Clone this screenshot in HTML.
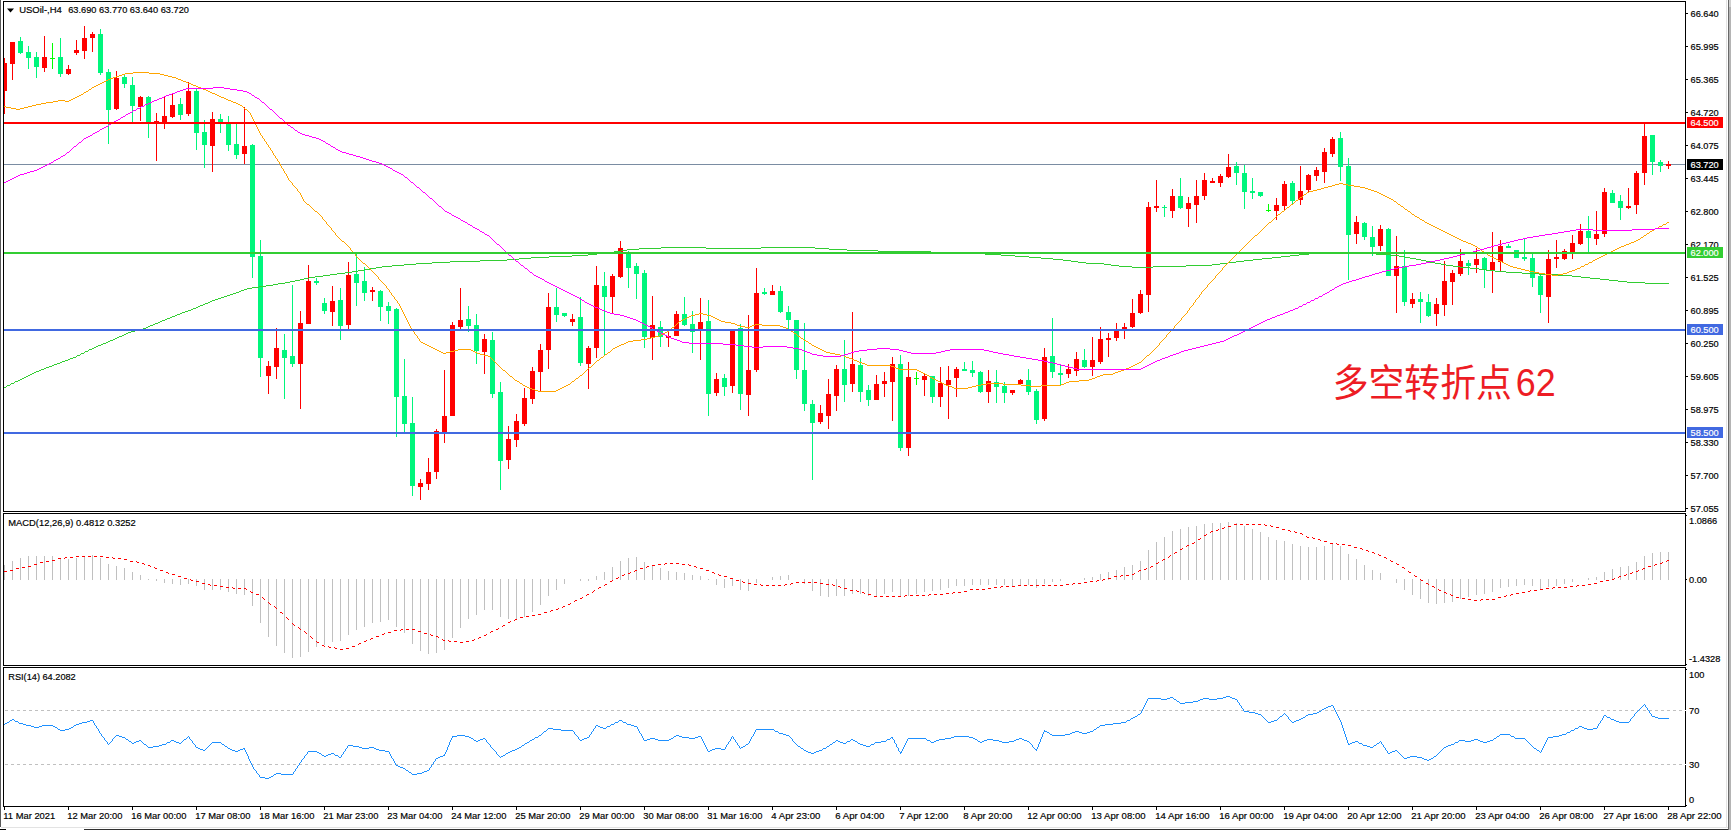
<!DOCTYPE html>
<html lang="zh"><head><meta charset="utf-8"><title>USOil H4</title>
<style>html,body{margin:0;padding:0;background:#fff;}body{width:1731px;height:830px;overflow:hidden;}svg{display:block;}text{font-family:"Liberation Sans","Noto Sans CJK SC",sans-serif;}</style></head><body>
<svg width="1731" height="830" viewBox="0 0 1731 830">
<rect x="0" y="0" width="1731" height="830" fill="#fff"/>
<g shape-rendering="crispEdges">
<rect x="0" y="0" width="1" height="827" fill="#5a5a5a"/>
<rect x="1726" y="0" width="1" height="827" fill="#e3e3e3"/>
<rect x="1728" y="0" width="1" height="830" fill="#696969"/>
<rect x="1729" y="0" width="2" height="7" fill="#d0d0d0"/>
<rect x="1729" y="7" width="2" height="823" fill="#b4b4b4"/>
<rect x="1" y="827" width="1727" height="1" fill="#e3e3e3"/>
<rect x="0" y="829" width="6" height="1" fill="#000"/>
<rect x="84" y="829" width="1644" height="1" fill="#303030"/>
<rect x="4" y="164" width="1681" height="1" fill="#7a8ca2"/>
</g>
<g shape-rendering="crispEdges">
<rect x="4" y="58" width="1" height="56" fill="#ff0000"/>
<rect x="4" y="63" width="3" height="28" fill="#ff0000"/>
<rect x="12" y="42" width="1" height="38" fill="#ff0000"/>
<rect x="10" y="42" width="5" height="22" fill="#ff0000"/>
<rect x="20" y="37" width="1" height="17" fill="#00f67c"/>
<rect x="18" y="41" width="5" height="12" fill="#00f67c"/>
<rect x="28" y="46" width="1" height="23" fill="#00f67c"/>
<rect x="26" y="52" width="5" height="6" fill="#00f67c"/>
<rect x="36" y="52" width="1" height="26" fill="#00f67c"/>
<rect x="34" y="57" width="5" height="10" fill="#00f67c"/>
<rect x="44" y="36" width="1" height="36" fill="#ff0000"/>
<rect x="42" y="57" width="5" height="11" fill="#ff0000"/>
<rect x="52" y="43" width="1" height="26" fill="#00ff00"/>
<rect x="50" y="58" width="5" height="1" fill="#00ff00"/>
<rect x="60" y="38" width="1" height="39" fill="#00f67c"/>
<rect x="58" y="57" width="5" height="17" fill="#00f67c"/>
<rect x="68" y="65" width="1" height="10" fill="#ff0000"/>
<rect x="66" y="69" width="5" height="5" fill="#ff0000"/>
<rect x="76" y="40" width="1" height="15" fill="#ff0000"/>
<rect x="74" y="50" width="5" height="3" fill="#ff0000"/>
<rect x="84" y="26" width="1" height="33" fill="#ff0000"/>
<rect x="82" y="38" width="5" height="13" fill="#ff0000"/>
<rect x="92" y="32" width="1" height="20" fill="#ff0000"/>
<rect x="90" y="34" width="5" height="4" fill="#ff0000"/>
<rect x="100" y="29" width="1" height="46" fill="#00f67c"/>
<rect x="98" y="34" width="5" height="39" fill="#00f67c"/>
<rect x="108" y="69" width="1" height="75" fill="#00f67c"/>
<rect x="106" y="72" width="5" height="38" fill="#00f67c"/>
<rect x="116" y="71" width="1" height="39" fill="#ff0000"/>
<rect x="114" y="78" width="5" height="31" fill="#ff0000"/>
<rect x="124" y="75" width="1" height="13" fill="#00f67c"/>
<rect x="122" y="77" width="5" height="7" fill="#00f67c"/>
<rect x="132" y="77" width="1" height="45" fill="#00f67c"/>
<rect x="130" y="85" width="5" height="21" fill="#00f67c"/>
<rect x="140" y="96" width="1" height="25" fill="#ff0000"/>
<rect x="138" y="97" width="5" height="10" fill="#ff0000"/>
<rect x="148" y="96" width="1" height="42" fill="#00f67c"/>
<rect x="146" y="97" width="5" height="27" fill="#00f67c"/>
<rect x="156" y="113" width="1" height="48" fill="#ff0000"/>
<rect x="154" y="121" width="5" height="2" fill="#ff0000"/>
<rect x="164" y="96" width="1" height="33" fill="#ff0000"/>
<rect x="162" y="116" width="5" height="7" fill="#ff0000"/>
<rect x="172" y="94" width="1" height="24" fill="#ff0000"/>
<rect x="170" y="105" width="5" height="12" fill="#ff0000"/>
<rect x="180" y="98" width="1" height="22" fill="#00f67c"/>
<rect x="178" y="104" width="5" height="11" fill="#00f67c"/>
<rect x="188" y="82" width="1" height="34" fill="#ff0000"/>
<rect x="186" y="91" width="5" height="23" fill="#ff0000"/>
<rect x="196" y="89" width="1" height="61" fill="#00f67c"/>
<rect x="194" y="91" width="5" height="42" fill="#00f67c"/>
<rect x="204" y="120" width="1" height="48" fill="#00f67c"/>
<rect x="202" y="132" width="5" height="13" fill="#00f67c"/>
<rect x="212" y="112" width="1" height="60" fill="#ff0000"/>
<rect x="210" y="119" width="5" height="27" fill="#ff0000"/>
<rect x="220" y="114" width="1" height="19" fill="#00f67c"/>
<rect x="218" y="119" width="5" height="3" fill="#00f67c"/>
<rect x="228" y="116" width="1" height="35" fill="#00f67c"/>
<rect x="226" y="123" width="5" height="22" fill="#00f67c"/>
<rect x="236" y="124" width="1" height="35" fill="#00f67c"/>
<rect x="234" y="144" width="5" height="11" fill="#00f67c"/>
<rect x="244" y="107" width="1" height="57" fill="#ff0000"/>
<rect x="242" y="146" width="5" height="8" fill="#ff0000"/>
<rect x="252" y="144" width="1" height="134" fill="#00f67c"/>
<rect x="250" y="145" width="5" height="112" fill="#00f67c"/>
<rect x="260" y="240" width="1" height="137" fill="#00f67c"/>
<rect x="258" y="256" width="5" height="102" fill="#00f67c"/>
<rect x="268" y="361" width="1" height="33" fill="#ff0000"/>
<rect x="266" y="366" width="5" height="10" fill="#ff0000"/>
<rect x="276" y="328" width="1" height="51" fill="#ff0000"/>
<rect x="274" y="348" width="5" height="19" fill="#ff0000"/>
<rect x="284" y="334" width="1" height="65" fill="#00f67c"/>
<rect x="282" y="350" width="5" height="8" fill="#00f67c"/>
<rect x="292" y="285" width="1" height="82" fill="#00f67c"/>
<rect x="290" y="356" width="5" height="8" fill="#00f67c"/>
<rect x="300" y="311" width="1" height="98" fill="#ff0000"/>
<rect x="298" y="323" width="5" height="41" fill="#ff0000"/>
<rect x="308" y="265" width="1" height="59" fill="#ff0000"/>
<rect x="306" y="281" width="5" height="43" fill="#ff0000"/>
<rect x="316" y="278" width="1" height="7" fill="#00f67c"/>
<rect x="314" y="281" width="5" height="2" fill="#00f67c"/>
<rect x="324" y="298" width="1" height="16" fill="#00f67c"/>
<rect x="322" y="303" width="5" height="8" fill="#00f67c"/>
<rect x="332" y="286" width="1" height="40" fill="#ff0000"/>
<rect x="330" y="301" width="5" height="11" fill="#ff0000"/>
<rect x="340" y="288" width="1" height="52" fill="#00f67c"/>
<rect x="338" y="300" width="5" height="26" fill="#00f67c"/>
<rect x="348" y="262" width="1" height="67" fill="#ff0000"/>
<rect x="346" y="275" width="5" height="50" fill="#ff0000"/>
<rect x="356" y="254" width="1" height="52" fill="#00f67c"/>
<rect x="354" y="274" width="5" height="9" fill="#00f67c"/>
<rect x="364" y="267" width="1" height="34" fill="#00f67c"/>
<rect x="362" y="281" width="5" height="12" fill="#00f67c"/>
<rect x="372" y="287" width="1" height="14" fill="#ff0000"/>
<rect x="370" y="290" width="5" height="2" fill="#ff0000"/>
<rect x="380" y="290" width="1" height="31" fill="#00f67c"/>
<rect x="378" y="291" width="5" height="16" fill="#00f67c"/>
<rect x="388" y="302" width="1" height="22" fill="#00f67c"/>
<rect x="386" y="306" width="5" height="5" fill="#00f67c"/>
<rect x="396" y="308" width="1" height="129" fill="#00f67c"/>
<rect x="394" y="309" width="5" height="88" fill="#00f67c"/>
<rect x="404" y="359" width="1" height="73" fill="#00f67c"/>
<rect x="402" y="396" width="5" height="28" fill="#00f67c"/>
<rect x="412" y="397" width="1" height="99" fill="#00f67c"/>
<rect x="410" y="423" width="5" height="63" fill="#00f67c"/>
<rect x="420" y="479" width="1" height="21" fill="#ff0000"/>
<rect x="418" y="483" width="5" height="4" fill="#ff0000"/>
<rect x="428" y="458" width="1" height="32" fill="#ff0000"/>
<rect x="426" y="472" width="5" height="12" fill="#ff0000"/>
<rect x="436" y="429" width="1" height="50" fill="#ff0000"/>
<rect x="434" y="431" width="5" height="41" fill="#ff0000"/>
<rect x="444" y="370" width="1" height="73" fill="#ff0000"/>
<rect x="442" y="416" width="5" height="17" fill="#ff0000"/>
<rect x="452" y="322" width="1" height="94" fill="#ff0000"/>
<rect x="450" y="325" width="5" height="91" fill="#ff0000"/>
<rect x="460" y="288" width="1" height="41" fill="#ff0000"/>
<rect x="458" y="320" width="5" height="7" fill="#ff0000"/>
<rect x="468" y="306" width="1" height="26" fill="#00f67c"/>
<rect x="466" y="319" width="5" height="7" fill="#00f67c"/>
<rect x="476" y="314" width="1" height="50" fill="#00f67c"/>
<rect x="474" y="325" width="5" height="26" fill="#00f67c"/>
<rect x="484" y="334" width="1" height="40" fill="#ff0000"/>
<rect x="482" y="339" width="5" height="13" fill="#ff0000"/>
<rect x="492" y="332" width="1" height="66" fill="#00f67c"/>
<rect x="490" y="340" width="5" height="54" fill="#00f67c"/>
<rect x="500" y="382" width="1" height="108" fill="#00f67c"/>
<rect x="498" y="392" width="5" height="69" fill="#00f67c"/>
<rect x="508" y="426" width="1" height="43" fill="#ff0000"/>
<rect x="506" y="439" width="5" height="21" fill="#ff0000"/>
<rect x="516" y="414" width="1" height="33" fill="#ff0000"/>
<rect x="514" y="421" width="5" height="19" fill="#ff0000"/>
<rect x="524" y="388" width="1" height="38" fill="#ff0000"/>
<rect x="522" y="398" width="5" height="26" fill="#ff0000"/>
<rect x="532" y="367" width="1" height="37" fill="#ff0000"/>
<rect x="530" y="371" width="5" height="28" fill="#ff0000"/>
<rect x="540" y="344" width="1" height="47" fill="#ff0000"/>
<rect x="538" y="350" width="5" height="22" fill="#ff0000"/>
<rect x="548" y="293" width="1" height="76" fill="#ff0000"/>
<rect x="546" y="307" width="5" height="43" fill="#ff0000"/>
<rect x="556" y="288" width="1" height="34" fill="#00f67c"/>
<rect x="554" y="307" width="5" height="8" fill="#00f67c"/>
<rect x="564" y="313" width="1" height="4" fill="#00f67c"/>
<rect x="562" y="313" width="5" height="3" fill="#00f67c"/>
<rect x="572" y="314" width="1" height="12" fill="#ff0000"/>
<rect x="570" y="319" width="5" height="3" fill="#ff0000"/>
<rect x="580" y="297" width="1" height="69" fill="#00f67c"/>
<rect x="578" y="317" width="5" height="46" fill="#00f67c"/>
<rect x="588" y="346" width="1" height="43" fill="#ff0000"/>
<rect x="586" y="348" width="5" height="16" fill="#ff0000"/>
<rect x="596" y="266" width="1" height="92" fill="#ff0000"/>
<rect x="594" y="285" width="5" height="63" fill="#ff0000"/>
<rect x="604" y="272" width="1" height="83" fill="#00f67c"/>
<rect x="602" y="286" width="5" height="11" fill="#00f67c"/>
<rect x="612" y="274" width="1" height="39" fill="#ff0000"/>
<rect x="610" y="276" width="5" height="21" fill="#ff0000"/>
<rect x="620" y="241" width="1" height="37" fill="#ff0000"/>
<rect x="618" y="248" width="5" height="29" fill="#ff0000"/>
<rect x="628" y="251" width="1" height="37" fill="#00f67c"/>
<rect x="626" y="253" width="5" height="15" fill="#00f67c"/>
<rect x="636" y="263" width="1" height="36" fill="#00f67c"/>
<rect x="634" y="266" width="5" height="8" fill="#00f67c"/>
<rect x="644" y="270" width="1" height="78" fill="#00f67c"/>
<rect x="642" y="273" width="5" height="64" fill="#00f67c"/>
<rect x="652" y="296" width="1" height="64" fill="#ff0000"/>
<rect x="650" y="325" width="5" height="13" fill="#ff0000"/>
<rect x="660" y="321" width="1" height="26" fill="#00f67c"/>
<rect x="658" y="327" width="5" height="10" fill="#00f67c"/>
<rect x="668" y="331" width="1" height="16" fill="#ff0000"/>
<rect x="666" y="336" width="5" height="2" fill="#ff0000"/>
<rect x="676" y="311" width="1" height="25" fill="#ff0000"/>
<rect x="674" y="314" width="5" height="22" fill="#ff0000"/>
<rect x="684" y="297" width="1" height="29" fill="#00f67c"/>
<rect x="682" y="314" width="5" height="11" fill="#00f67c"/>
<rect x="692" y="311" width="1" height="42" fill="#00f67c"/>
<rect x="690" y="324" width="5" height="8" fill="#00f67c"/>
<rect x="700" y="298" width="1" height="62" fill="#ff0000"/>
<rect x="698" y="322" width="5" height="8" fill="#ff0000"/>
<rect x="708" y="300" width="1" height="116" fill="#00f67c"/>
<rect x="706" y="321" width="5" height="73" fill="#00f67c"/>
<rect x="716" y="373" width="1" height="23" fill="#ff0000"/>
<rect x="714" y="379" width="5" height="14" fill="#ff0000"/>
<rect x="724" y="374" width="1" height="22" fill="#00f67c"/>
<rect x="722" y="378" width="5" height="9" fill="#00f67c"/>
<rect x="732" y="329" width="1" height="64" fill="#ff0000"/>
<rect x="730" y="329" width="5" height="57" fill="#ff0000"/>
<rect x="740" y="324" width="1" height="86" fill="#00f67c"/>
<rect x="738" y="328" width="5" height="66" fill="#00f67c"/>
<rect x="748" y="315" width="1" height="101" fill="#ff0000"/>
<rect x="746" y="370" width="5" height="25" fill="#ff0000"/>
<rect x="756" y="268" width="1" height="104" fill="#ff0000"/>
<rect x="754" y="293" width="5" height="77" fill="#ff0000"/>
<rect x="764" y="288" width="1" height="7" fill="#00f67c"/>
<rect x="762" y="292" width="5" height="2" fill="#00f67c"/>
<rect x="772" y="285" width="1" height="10" fill="#ff0000"/>
<rect x="770" y="291" width="5" height="4" fill="#ff0000"/>
<rect x="780" y="286" width="1" height="27" fill="#00f67c"/>
<rect x="778" y="291" width="5" height="21" fill="#00f67c"/>
<rect x="788" y="306" width="1" height="23" fill="#00f67c"/>
<rect x="786" y="312" width="5" height="8" fill="#00f67c"/>
<rect x="796" y="320" width="1" height="59" fill="#00f67c"/>
<rect x="794" y="320" width="5" height="50" fill="#00f67c"/>
<rect x="804" y="323" width="1" height="88" fill="#00f67c"/>
<rect x="802" y="370" width="5" height="34" fill="#00f67c"/>
<rect x="812" y="400" width="1" height="80" fill="#00f67c"/>
<rect x="810" y="404" width="5" height="19" fill="#00f67c"/>
<rect x="820" y="405" width="1" height="19" fill="#ff0000"/>
<rect x="818" y="413" width="5" height="9" fill="#ff0000"/>
<rect x="828" y="379" width="1" height="50" fill="#ff0000"/>
<rect x="826" y="394" width="5" height="22" fill="#ff0000"/>
<rect x="836" y="365" width="1" height="46" fill="#ff0000"/>
<rect x="834" y="369" width="5" height="27" fill="#ff0000"/>
<rect x="844" y="340" width="1" height="62" fill="#00f67c"/>
<rect x="842" y="369" width="5" height="16" fill="#00f67c"/>
<rect x="852" y="312" width="1" height="80" fill="#ff0000"/>
<rect x="850" y="364" width="5" height="20" fill="#ff0000"/>
<rect x="860" y="358" width="1" height="44" fill="#00f67c"/>
<rect x="858" y="365" width="5" height="27" fill="#00f67c"/>
<rect x="868" y="385" width="1" height="21" fill="#00f67c"/>
<rect x="866" y="390" width="5" height="10" fill="#00f67c"/>
<rect x="876" y="375" width="1" height="25" fill="#ff0000"/>
<rect x="874" y="384" width="5" height="16" fill="#ff0000"/>
<rect x="884" y="372" width="1" height="25" fill="#ff0000"/>
<rect x="882" y="381" width="5" height="3" fill="#ff0000"/>
<rect x="892" y="357" width="1" height="64" fill="#ff0000"/>
<rect x="890" y="364" width="5" height="18" fill="#ff0000"/>
<rect x="900" y="355" width="1" height="96" fill="#00f67c"/>
<rect x="898" y="364" width="5" height="84" fill="#00f67c"/>
<rect x="908" y="362" width="1" height="94" fill="#ff0000"/>
<rect x="906" y="377" width="5" height="71" fill="#ff0000"/>
<rect x="916" y="372" width="1" height="13" fill="#00ff00"/>
<rect x="914" y="378" width="5" height="1" fill="#00ff00"/>
<rect x="924" y="373" width="1" height="23" fill="#ff0000"/>
<rect x="922" y="376" width="5" height="4" fill="#ff0000"/>
<rect x="932" y="376" width="1" height="27" fill="#00f67c"/>
<rect x="930" y="376" width="5" height="21" fill="#00f67c"/>
<rect x="940" y="367" width="1" height="40" fill="#ff0000"/>
<rect x="938" y="383" width="5" height="14" fill="#ff0000"/>
<rect x="948" y="366" width="1" height="53" fill="#ff0000"/>
<rect x="946" y="380" width="5" height="5" fill="#ff0000"/>
<rect x="956" y="367" width="1" height="30" fill="#ff0000"/>
<rect x="954" y="369" width="5" height="9" fill="#ff0000"/>
<rect x="964" y="362" width="1" height="9" fill="#00f67c"/>
<rect x="962" y="369" width="5" height="2" fill="#00f67c"/>
<rect x="972" y="361" width="1" height="16" fill="#00f67c"/>
<rect x="970" y="370" width="5" height="3" fill="#00f67c"/>
<rect x="980" y="371" width="1" height="22" fill="#00f67c"/>
<rect x="978" y="372" width="5" height="20" fill="#00f67c"/>
<rect x="988" y="370" width="1" height="33" fill="#ff0000"/>
<rect x="986" y="381" width="5" height="11" fill="#ff0000"/>
<rect x="996" y="370" width="1" height="33" fill="#00f67c"/>
<rect x="994" y="382" width="5" height="5" fill="#00f67c"/>
<rect x="1004" y="382" width="1" height="21" fill="#00f67c"/>
<rect x="1002" y="386" width="5" height="7" fill="#00f67c"/>
<rect x="1012" y="390" width="1" height="5" fill="#ff0000"/>
<rect x="1010" y="390" width="5" height="3" fill="#ff0000"/>
<rect x="1020" y="379" width="1" height="6" fill="#ff0000"/>
<rect x="1018" y="380" width="5" height="4" fill="#ff0000"/>
<rect x="1028" y="369" width="1" height="26" fill="#00f67c"/>
<rect x="1026" y="380" width="5" height="12" fill="#00f67c"/>
<rect x="1036" y="389" width="1" height="35" fill="#00f67c"/>
<rect x="1034" y="391" width="5" height="29" fill="#00f67c"/>
<rect x="1044" y="348" width="1" height="73" fill="#ff0000"/>
<rect x="1042" y="357" width="5" height="62" fill="#ff0000"/>
<rect x="1052" y="318" width="1" height="60" fill="#00f67c"/>
<rect x="1050" y="356" width="5" height="16" fill="#00f67c"/>
<rect x="1060" y="365" width="1" height="20" fill="#00f67c"/>
<rect x="1058" y="373" width="5" height="2" fill="#00f67c"/>
<rect x="1068" y="364" width="1" height="14" fill="#ff0000"/>
<rect x="1066" y="369" width="5" height="5" fill="#ff0000"/>
<rect x="1076" y="352" width="1" height="24" fill="#ff0000"/>
<rect x="1074" y="359" width="5" height="12" fill="#ff0000"/>
<rect x="1084" y="349" width="1" height="19" fill="#00f67c"/>
<rect x="1082" y="360" width="5" height="7" fill="#00f67c"/>
<rect x="1092" y="337" width="1" height="39" fill="#ff0000"/>
<rect x="1090" y="360" width="5" height="7" fill="#ff0000"/>
<rect x="1100" y="327" width="1" height="37" fill="#ff0000"/>
<rect x="1098" y="339" width="5" height="23" fill="#ff0000"/>
<rect x="1108" y="333" width="1" height="24" fill="#ff0000"/>
<rect x="1106" y="338" width="5" height="2" fill="#ff0000"/>
<rect x="1116" y="323" width="1" height="18" fill="#ff0000"/>
<rect x="1114" y="331" width="5" height="7" fill="#ff0000"/>
<rect x="1124" y="323" width="1" height="16" fill="#ff0000"/>
<rect x="1122" y="327" width="5" height="4" fill="#ff0000"/>
<rect x="1132" y="299" width="1" height="29" fill="#ff0000"/>
<rect x="1130" y="313" width="5" height="14" fill="#ff0000"/>
<rect x="1140" y="290" width="1" height="24" fill="#ff0000"/>
<rect x="1138" y="294" width="5" height="19" fill="#ff0000"/>
<rect x="1148" y="202" width="1" height="110" fill="#ff0000"/>
<rect x="1146" y="207" width="5" height="88" fill="#ff0000"/>
<rect x="1156" y="180" width="1" height="32" fill="#ff0000"/>
<rect x="1154" y="206" width="5" height="2" fill="#ff0000"/>
<rect x="1164" y="205" width="1" height="12" fill="#00f67c"/>
<rect x="1162" y="207" width="5" height="1" fill="#00f67c"/>
<rect x="1172" y="189" width="1" height="29" fill="#ff0000"/>
<rect x="1170" y="196" width="5" height="15" fill="#ff0000"/>
<rect x="1180" y="178" width="1" height="31" fill="#00f67c"/>
<rect x="1178" y="196" width="5" height="12" fill="#00f67c"/>
<rect x="1188" y="197" width="1" height="30" fill="#ff0000"/>
<rect x="1186" y="203" width="5" height="6" fill="#ff0000"/>
<rect x="1196" y="180" width="1" height="43" fill="#ff0000"/>
<rect x="1194" y="196" width="5" height="9" fill="#ff0000"/>
<rect x="1204" y="173" width="1" height="27" fill="#ff0000"/>
<rect x="1202" y="180" width="5" height="16" fill="#ff0000"/>
<rect x="1212" y="178" width="1" height="5" fill="#ff0000"/>
<rect x="1210" y="181" width="5" height="2" fill="#ff0000"/>
<rect x="1220" y="174" width="1" height="13" fill="#ff0000"/>
<rect x="1218" y="176" width="5" height="7" fill="#ff0000"/>
<rect x="1228" y="154" width="1" height="24" fill="#ff0000"/>
<rect x="1226" y="167" width="5" height="10" fill="#ff0000"/>
<rect x="1236" y="162" width="1" height="23" fill="#00f67c"/>
<rect x="1234" y="166" width="5" height="7" fill="#00f67c"/>
<rect x="1244" y="165" width="1" height="44" fill="#00f67c"/>
<rect x="1242" y="173" width="5" height="19" fill="#00f67c"/>
<rect x="1252" y="178" width="1" height="21" fill="#00f67c"/>
<rect x="1250" y="191" width="5" height="2" fill="#00f67c"/>
<rect x="1260" y="192" width="1" height="5" fill="#00f67c"/>
<rect x="1258" y="192" width="5" height="4" fill="#00f67c"/>
<rect x="1268" y="204" width="1" height="8" fill="#00ff00"/>
<rect x="1266" y="210" width="5" height="1" fill="#00ff00"/>
<rect x="1276" y="198" width="1" height="22" fill="#ff0000"/>
<rect x="1274" y="205" width="5" height="6" fill="#ff0000"/>
<rect x="1284" y="181" width="1" height="29" fill="#ff0000"/>
<rect x="1282" y="184" width="5" height="22" fill="#ff0000"/>
<rect x="1292" y="181" width="1" height="23" fill="#00f67c"/>
<rect x="1290" y="183" width="5" height="18" fill="#00f67c"/>
<rect x="1300" y="166" width="1" height="39" fill="#ff0000"/>
<rect x="1298" y="191" width="5" height="9" fill="#ff0000"/>
<rect x="1308" y="174" width="1" height="18" fill="#ff0000"/>
<rect x="1306" y="175" width="5" height="15" fill="#ff0000"/>
<rect x="1316" y="167" width="1" height="14" fill="#ff0000"/>
<rect x="1314" y="170" width="5" height="6" fill="#ff0000"/>
<rect x="1324" y="148" width="1" height="35" fill="#ff0000"/>
<rect x="1322" y="152" width="5" height="20" fill="#ff0000"/>
<rect x="1332" y="137" width="1" height="20" fill="#ff0000"/>
<rect x="1330" y="139" width="5" height="15" fill="#ff0000"/>
<rect x="1340" y="132" width="1" height="49" fill="#00f67c"/>
<rect x="1338" y="138" width="5" height="29" fill="#00f67c"/>
<rect x="1348" y="158" width="1" height="122" fill="#00f67c"/>
<rect x="1346" y="166" width="5" height="69" fill="#00f67c"/>
<rect x="1356" y="216" width="1" height="28" fill="#ff0000"/>
<rect x="1354" y="222" width="5" height="12" fill="#ff0000"/>
<rect x="1364" y="222" width="1" height="18" fill="#00f67c"/>
<rect x="1362" y="223" width="5" height="14" fill="#00f67c"/>
<rect x="1372" y="226" width="1" height="30" fill="#00f67c"/>
<rect x="1370" y="237" width="5" height="10" fill="#00f67c"/>
<rect x="1380" y="225" width="1" height="26" fill="#ff0000"/>
<rect x="1378" y="229" width="5" height="17" fill="#ff0000"/>
<rect x="1388" y="228" width="1" height="48" fill="#00f67c"/>
<rect x="1386" y="229" width="5" height="47" fill="#00f67c"/>
<rect x="1396" y="236" width="1" height="77" fill="#ff0000"/>
<rect x="1394" y="266" width="5" height="10" fill="#ff0000"/>
<rect x="1404" y="250" width="1" height="56" fill="#00f67c"/>
<rect x="1402" y="266" width="5" height="36" fill="#00f67c"/>
<rect x="1412" y="293" width="1" height="15" fill="#ff0000"/>
<rect x="1410" y="299" width="5" height="5" fill="#ff0000"/>
<rect x="1420" y="292" width="1" height="31" fill="#00f67c"/>
<rect x="1418" y="299" width="5" height="3" fill="#00f67c"/>
<rect x="1428" y="294" width="1" height="23" fill="#00f67c"/>
<rect x="1426" y="302" width="5" height="14" fill="#00f67c"/>
<rect x="1436" y="298" width="1" height="28" fill="#ff0000"/>
<rect x="1434" y="304" width="5" height="10" fill="#ff0000"/>
<rect x="1444" y="261" width="1" height="55" fill="#ff0000"/>
<rect x="1442" y="281" width="5" height="24" fill="#ff0000"/>
<rect x="1452" y="270" width="1" height="35" fill="#ff0000"/>
<rect x="1450" y="273" width="5" height="9" fill="#ff0000"/>
<rect x="1460" y="249" width="1" height="27" fill="#ff0000"/>
<rect x="1458" y="261" width="5" height="13" fill="#ff0000"/>
<rect x="1468" y="260" width="1" height="15" fill="#00f67c"/>
<rect x="1466" y="263" width="5" height="3" fill="#00f67c"/>
<rect x="1476" y="248" width="1" height="25" fill="#ff0000"/>
<rect x="1474" y="259" width="5" height="6" fill="#ff0000"/>
<rect x="1484" y="257" width="1" height="31" fill="#00f67c"/>
<rect x="1482" y="258" width="5" height="12" fill="#00f67c"/>
<rect x="1492" y="232" width="1" height="61" fill="#ff0000"/>
<rect x="1490" y="262" width="5" height="8" fill="#ff0000"/>
<rect x="1500" y="240" width="1" height="31" fill="#ff0000"/>
<rect x="1498" y="246" width="5" height="16" fill="#ff0000"/>
<rect x="1508" y="244" width="1" height="4" fill="#00f67c"/>
<rect x="1506" y="246" width="5" height="2" fill="#00f67c"/>
<rect x="1516" y="250" width="1" height="8" fill="#00f67c"/>
<rect x="1514" y="250" width="5" height="8" fill="#00f67c"/>
<rect x="1524" y="239" width="1" height="22" fill="#00f67c"/>
<rect x="1522" y="257" width="5" height="2" fill="#00f67c"/>
<rect x="1532" y="254" width="1" height="33" fill="#00f67c"/>
<rect x="1530" y="258" width="5" height="20" fill="#00f67c"/>
<rect x="1540" y="275" width="1" height="38" fill="#00f67c"/>
<rect x="1538" y="276" width="5" height="19" fill="#00f67c"/>
<rect x="1548" y="250" width="1" height="73" fill="#ff0000"/>
<rect x="1546" y="259" width="5" height="38" fill="#ff0000"/>
<rect x="1556" y="240" width="1" height="28" fill="#ff0000"/>
<rect x="1554" y="257" width="5" height="2" fill="#ff0000"/>
<rect x="1564" y="249" width="1" height="11" fill="#ff0000"/>
<rect x="1562" y="251" width="5" height="8" fill="#ff0000"/>
<rect x="1572" y="235" width="1" height="24" fill="#ff0000"/>
<rect x="1570" y="243" width="5" height="10" fill="#ff0000"/>
<rect x="1580" y="224" width="1" height="21" fill="#ff0000"/>
<rect x="1578" y="231" width="5" height="13" fill="#ff0000"/>
<rect x="1588" y="216" width="1" height="36" fill="#00f67c"/>
<rect x="1586" y="231" width="5" height="7" fill="#00f67c"/>
<rect x="1596" y="211" width="1" height="34" fill="#ff0000"/>
<rect x="1594" y="234" width="5" height="5" fill="#ff0000"/>
<rect x="1604" y="188" width="1" height="49" fill="#ff0000"/>
<rect x="1602" y="192" width="5" height="42" fill="#ff0000"/>
<rect x="1612" y="190" width="1" height="13" fill="#00f67c"/>
<rect x="1610" y="193" width="5" height="10" fill="#00f67c"/>
<rect x="1620" y="195" width="1" height="25" fill="#00f67c"/>
<rect x="1618" y="201" width="5" height="7" fill="#00f67c"/>
<rect x="1628" y="188" width="1" height="21" fill="#ff0000"/>
<rect x="1626" y="206" width="5" height="2" fill="#ff0000"/>
<rect x="1636" y="171" width="1" height="43" fill="#ff0000"/>
<rect x="1634" y="173" width="5" height="32" fill="#ff0000"/>
<rect x="1644" y="123" width="1" height="62" fill="#ff0000"/>
<rect x="1642" y="136" width="5" height="37" fill="#ff0000"/>
<rect x="1652" y="135" width="1" height="40" fill="#00f67c"/>
<rect x="1650" y="135" width="5" height="27" fill="#00f67c"/>
<rect x="1660" y="160" width="1" height="12" fill="#00f67c"/>
<rect x="1658" y="162" width="5" height="4" fill="#00f67c"/>
<rect x="1668" y="161" width="1" height="8" fill="#ff0000"/>
<rect x="1666" y="164" width="5" height="2" fill="#ff0000"/>
</g>
<path d="M661 247h45v1h-45zM761 247h54v1h-54zM639 248h22v1h-22zM706 248h55v1h-55zM815 248h14v1h-14zM627 249h12v1h-12zM829 249h18v1h-18zM621 250h6v1h-6zM847 250h31v1h-31zM614 251h7v1h-7zM878 251h53v1h-53zM605 252h9v1h-9zM931 252h39v1h-39zM597 253h8v1h-8zM970 253h15v1h-15zM1309 253h67v1h-67zM588 254h9v1h-9zM985 254h16v1h-16zM1299 254h10v1h-10zM1376 254h14v1h-14zM572 255h16v1h-16zM1001 255h14v1h-14zM1290 255h9v1h-9zM1390 255h9v1h-9zM549 256h23v1h-23zM1015 256h14v1h-14zM1281 256h9v1h-9zM1399 256h6v1h-6zM531 257h18v1h-18zM1029 257h12v1h-12zM1272 257h9v1h-9zM1405 257h5v1h-5zM519 258h12v1h-12zM1041 258h12v1h-12zM1262 258h10v1h-10zM1410 258h6v1h-6zM507 259h12v1h-12zM1053 259h10v1h-10zM1253 259h9v1h-9zM1416 259h5v1h-5zM480 260h27v1h-27zM1063 260h8v1h-8zM1244 260h9v1h-9zM1421 260h5v1h-5zM450 261h30v1h-30zM1071 261h7v1h-7zM1236 261h8v1h-8zM1426 261h4v1h-4zM432 262h18v1h-18zM1078 262h8v1h-8zM1228 262h8v1h-8zM1430 262h5v1h-5zM416 263h16v1h-16zM1086 263h18v1h-18zM1220 263h8v1h-8zM1435 263h6v1h-6zM404 264h12v1h-12zM1104 264h7v1h-7zM1212 264h8v1h-8zM1441 264h5v1h-5zM392 265h12v1h-12zM1111 265h8v1h-8zM1186 265h26v1h-26zM1446 265h7v1h-7zM382 266h10v1h-10zM1119 266h13v1h-13zM1153 266h33v1h-33zM1453 266h7v1h-7zM376 267h6v1h-6zM1132 267h21v1h-21zM1460 267h10v1h-10zM370 268h6v1h-6zM1470 268h9v1h-9zM364 269h6v1h-6zM1479 269h7v1h-7zM358 270h6v1h-6zM1486 270h9v1h-9zM352 271h6v1h-6zM1495 271h11v1h-11zM345 272h7v1h-7zM1506 272h16v1h-16zM337 273h8v1h-8zM1522 273h17v1h-17zM330 274h7v1h-7zM1539 274h19v1h-19zM323 275h7v1h-7zM1558 275h14v1h-14zM315 276h8v1h-8zM1572 276h9v1h-9zM309 277h6v1h-6zM1581 277h9v1h-9zM304 278h5v1h-5zM1590 278h10v1h-10zM300 279h4v1h-4zM1600 279h9v1h-9zM295 280h5v1h-5zM1609 280h9v1h-9zM290 281h5v1h-5zM1618 281h9v1h-9zM285 282h5v1h-5zM1627 282h18v1h-18zM278 283h7v1h-7zM1645 283h24v1h-24zM273 284h5v1h-5zM266 285h7v1h-7zM259 286h7v1h-7zM252 287h7v1h-7zM247 288h5v1h-5zM244 289h3v1h-3zM241 290h3v1h-3zM239 291h2v1h-2zM236 292h3v1h-3zM233 293h3v1h-3zM230 294h3v1h-3zM227 295h3v1h-3zM224 296h3v1h-3zM221 297h3v1h-3zM218 298h3v1h-3zM215 299h3v1h-3zM212 300h3v1h-3zM210 301h2v1h-2zM208 302h2v1h-2zM205 303h3v1h-3zM203 304h2v1h-2zM200 305h3v1h-3zM198 306h2v1h-2zM196 307h2v1h-2zM193 308h3v1h-3zM191 309h2v1h-2zM188 310h3v1h-3zM185 311h3v1h-3zM182 312h3v1h-3zM180 313h2v1h-2zM177 314h3v1h-3zM175 315h2v1h-2zM172 316h3v1h-3zM170 317h2v1h-2zM167 318h3v1h-3zM165 319h2v1h-2zM162 320h3v1h-3zM160 321h2v1h-2zM158 322h2v1h-2zM155 323h3v1h-3zM153 324h2v1h-2zM150 325h3v1h-3zM148 326h2v1h-2zM146 327h2v1h-2zM143 328h3v1h-3zM139 329h4v1h-4zM135 330h4v1h-4zM131 331h4v1h-4zM128 332h3v1h-3zM126 333h2v1h-2zM124 334h2v1h-2zM122 335h2v1h-2zM119 336h3v1h-3zM117 337h2v1h-2zM115 338h2v1h-2zM113 339h2v1h-2zM110 340h3v1h-3zM108 341h2v1h-2zM106 342h2v1h-2zM103 343h3v1h-3zM101 344h2v1h-2zM98 345h3v1h-3zM96 346h2v1h-2zM94 347h2v1h-2zM92 348h2v1h-2zM89 349h3v1h-3zM88 350h1v1h-1zM85 351h3v1h-3zM84 352h1v1h-1zM81 353h3v1h-3zM80 354h1v1h-1zM77 355h3v1h-3zM76 356h1v1h-1zM73 357h3v1h-3zM70 358h3v1h-3zM68 359h2v1h-2zM65 360h3v1h-3zM62 361h3v1h-3zM60 362h2v1h-2zM57 363h3v1h-3zM54 364h3v1h-3zM52 365h2v1h-2zM49 366h3v1h-3zM46 367h3v1h-3zM44 368h2v1h-2zM41 369h3v1h-3zM39 370h2v1h-2zM36 371h3v1h-3zM34 372h2v1h-2zM32 373h2v1h-2zM30 374h2v1h-2zM28 375h2v1h-2zM26 376h2v1h-2zM24 377h2v1h-2zM22 378h2v1h-2zM20 379h2v1h-2zM18 380h2v1h-2zM15 381h3v1h-3zM14 382h1v1h-1zM11 383h3v1h-3zM10 384h1v1h-1zM7 385h3v1h-3zM6 386h1v1h-1zM4 387h2v1h-2z" fill="#32cd32" shape-rendering="crispEdges"/>
<path d="M133 72h16v1h-16zM125 73h8v1h-8zM149 73h11v1h-11zM122 74h3v1h-3zM160 74h4v1h-4zM119 75h3v1h-3zM164 75h4v1h-4zM116 76h3v1h-3zM168 76h4v1h-4zM113 77h3v1h-3zM172 77h4v1h-4zM110 78h3v1h-3zM176 78h2v1h-2zM108 79h2v1h-2zM178 79h3v1h-3zM106 80h2v1h-2zM181 80h2v1h-2zM104 81h2v1h-2zM183 81h3v1h-3zM102 82h2v1h-2zM186 82h2v1h-2zM100 83h2v1h-2zM188 83h3v1h-3zM98 84h2v1h-2zM191 84h2v1h-2zM96 85h2v1h-2zM193 85h3v1h-3zM94 86h2v1h-2zM196 86h2v1h-2zM92 87h2v1h-2zM198 87h3v1h-3zM91 88h1v1h-1zM201 88h2v1h-2zM89 89h2v1h-2zM203 89h3v1h-3zM88 90h1v1h-1zM206 90h2v1h-2zM86 91h2v1h-2zM208 91h2v1h-2zM84 92h2v1h-2zM210 92h2v1h-2zM83 93h1v1h-1zM212 93h3v1h-3zM81 94h2v1h-2zM215 94h2v1h-2zM79 95h2v1h-2zM217 95h2v1h-2zM77 96h2v1h-2zM219 96h2v1h-2zM75 97h2v1h-2zM221 97h3v1h-3zM73 98h2v1h-2zM224 98h2v1h-2zM71 99h2v1h-2zM226 99h2v1h-2zM58 100h7v1h-7zM69 100h2v1h-2zM228 100h3v1h-3zM53 101h5v1h-5zM65 101h4v1h-4zM231 101h2v1h-2zM46 102h7v1h-7zM233 102h3v1h-3zM41 103h5v1h-5zM236 103h2v1h-2zM36 104h5v1h-5zM238 104h2v1h-2zM32 105h4v1h-4zM240 105h2v1h-2zM3 106h3v1h-3zM28 106h4v1h-4zM242 106h1v1h-1zM6 107h5v1h-5zM24 107h4v1h-4zM243 107h1v1h-1zM11 108h5v1h-5zM20 108h4v1h-4zM244 108h1v1h-1zM16 109h4v1h-4zM245 109h2v1h-2zM247 110h1v1h-1zM248 111h1v1h-1zM249 112h1v1h-1zM250 113h1v1h-1zM250 114h1v1h-1zM251 115h1v1h-1zM251 116h1v1h-1zM252 117h1v1h-1zM252 118h1v1h-1zM253 119h1v1h-1zM253 120h1v1h-1zM254 121h1v1h-1zM254 122h1v1h-1zM255 123h1v1h-1zM255 124h1v1h-1zM256 125h1v1h-1zM256 126h1v1h-1zM257 127h1v1h-1zM257 128h1v1h-1zM258 129h1v1h-1zM258 130h1v1h-1zM259 131h1v1h-1zM259 132h1v1h-1zM260 133h1v1h-1zM260 134h1v1h-1zM261 135h1v1h-1zM262 136h1v1h-1zM262 137h1v1h-1zM263 138h1v1h-1zM264 139h1v1h-1zM264 140h1v1h-1zM265 141h1v1h-1zM266 142h1v1h-1zM266 143h1v1h-1zM267 144h1v1h-1zM268 145h1v1h-1zM268 146h1v1h-1zM269 147h1v1h-1zM270 148h1v1h-1zM270 149h1v1h-1zM271 150h1v1h-1zM272 151h1v1h-1zM272 152h1v1h-1zM273 153h1v1h-1zM273 154h1v1h-1zM274 155h1v1h-1zM275 156h1v1h-1zM275 157h1v1h-1zM276 158h1v1h-1zM277 159h1v1h-1zM277 160h1v1h-1zM278 161h1v1h-1zM279 162h1v1h-1zM279 163h1v1h-1zM280 164h1v1h-1zM280 165h1v1h-1zM281 166h1v1h-1zM281 167h1v1h-1zM282 168h1v1h-1zM283 169h1v1h-1zM283 170h1v1h-1zM284 171h1v1h-1zM284 172h1v1h-1zM285 173h1v1h-1zM286 174h1v1h-1zM286 175h1v1h-1zM287 176h1v1h-1zM287 177h1v1h-1zM288 178h1v1h-1zM288 179h1v1h-1zM289 180h1v1h-1zM290 181h1v1h-1zM291 182h1v1h-1zM292 183h1v1h-1zM1339 183h4v1h-4zM292 184h1v1h-1zM1335 184h4v1h-4zM1343 184h5v1h-5zM293 185h1v1h-1zM1332 185h3v1h-3zM1348 185h6v1h-6zM294 186h1v1h-1zM1328 186h4v1h-4zM1354 186h6v1h-6zM295 187h1v1h-1zM1324 187h4v1h-4zM1360 187h5v1h-5zM296 188h1v1h-1zM1321 188h3v1h-3zM1365 188h3v1h-3zM297 189h1v1h-1zM1317 189h4v1h-4zM1368 189h3v1h-3zM297 190h1v1h-1zM1313 190h4v1h-4zM1371 190h3v1h-3zM298 191h1v1h-1zM1309 191h4v1h-4zM1374 191h3v1h-3zM299 192h1v1h-1zM1307 192h2v1h-2zM1377 192h2v1h-2zM300 193h1v1h-1zM1306 193h1v1h-1zM1379 193h2v1h-2zM300 194h1v1h-1zM1304 194h2v1h-2zM1381 194h2v1h-2zM301 195h1v1h-1zM1303 195h1v1h-1zM1383 195h2v1h-2zM301 196h1v1h-1zM1302 196h1v1h-1zM1385 196h2v1h-2zM302 197h1v1h-1zM1300 197h2v1h-2zM1387 197h2v1h-2zM302 198h1v1h-1zM1299 198h1v1h-1zM1389 198h2v1h-2zM303 199h1v1h-1zM1298 199h1v1h-1zM1391 199h2v1h-2zM303 200h1v1h-1zM1296 200h2v1h-2zM1393 200h1v1h-1zM304 201h1v1h-1zM1295 201h1v1h-1zM1394 201h2v1h-2zM305 202h1v1h-1zM1294 202h1v1h-1zM1396 202h1v1h-1zM306 203h1v1h-1zM1293 203h1v1h-1zM1397 203h1v1h-1zM307 204h2v1h-2zM1291 204h2v1h-2zM1398 204h2v1h-2zM309 205h1v1h-1zM1290 205h1v1h-1zM1400 205h1v1h-1zM310 206h1v1h-1zM1289 206h1v1h-1zM1401 206h2v1h-2zM311 207h1v1h-1zM1287 207h2v1h-2zM1403 207h1v1h-1zM312 208h1v1h-1zM1286 208h1v1h-1zM1404 208h1v1h-1zM313 209h1v1h-1zM1285 209h1v1h-1zM1405 209h2v1h-2zM314 210h1v1h-1zM1284 210h1v1h-1zM1407 210h1v1h-1zM315 211h2v1h-2zM1282 211h2v1h-2zM1408 211h2v1h-2zM317 212h1v1h-1zM1281 212h1v1h-1zM1410 212h1v1h-1zM318 213h1v1h-1zM1280 213h1v1h-1zM1411 213h1v1h-1zM319 214h1v1h-1zM1278 214h2v1h-2zM1412 214h2v1h-2zM320 215h1v1h-1zM1277 215h1v1h-1zM1414 215h1v1h-1zM321 216h1v1h-1zM1276 216h1v1h-1zM1415 216h2v1h-2zM322 217h1v1h-1zM1275 217h1v1h-1zM1417 217h2v1h-2zM322 218h1v1h-1zM1274 218h1v1h-1zM1419 218h1v1h-1zM323 219h1v1h-1zM1273 219h1v1h-1zM1420 219h2v1h-2zM324 220h1v1h-1zM1272 220h1v1h-1zM1422 220h2v1h-2zM325 221h1v1h-1zM1271 221h1v1h-1zM1424 221h1v1h-1zM326 222h1v1h-1zM1269 222h2v1h-2zM1425 222h2v1h-2zM1667 222h2v1h-2zM326 223h1v1h-1zM1268 223h1v1h-1zM1427 223h2v1h-2zM1666 223h1v1h-1zM327 224h1v1h-1zM1267 224h1v1h-1zM1429 224h2v1h-2zM1663 224h3v1h-3zM328 225h1v1h-1zM1266 225h1v1h-1zM1431 225h2v1h-2zM1662 225h1v1h-1zM329 226h1v1h-1zM1265 226h1v1h-1zM1433 226h2v1h-2zM1659 226h3v1h-3zM330 227h1v1h-1zM1264 227h1v1h-1zM1435 227h2v1h-2zM1658 227h1v1h-1zM331 228h1v1h-1zM1263 228h1v1h-1zM1437 228h2v1h-2zM1655 228h3v1h-3zM331 229h1v1h-1zM1262 229h1v1h-1zM1439 229h2v1h-2zM1654 229h1v1h-1zM332 230h1v1h-1zM1261 230h1v1h-1zM1441 230h2v1h-2zM1652 230h2v1h-2zM333 231h1v1h-1zM1260 231h1v1h-1zM1443 231h2v1h-2zM1650 231h2v1h-2zM334 232h1v1h-1zM1259 232h1v1h-1zM1445 232h2v1h-2zM1649 232h1v1h-1zM335 233h1v1h-1zM1258 233h1v1h-1zM1447 233h2v1h-2zM1647 233h2v1h-2zM335 234h1v1h-1zM1257 234h1v1h-1zM1449 234h2v1h-2zM1646 234h1v1h-1zM336 235h1v1h-1zM1255 235h2v1h-2zM1451 235h2v1h-2zM1644 235h2v1h-2zM337 236h1v1h-1zM1254 236h1v1h-1zM1453 236h2v1h-2zM1643 236h1v1h-1zM338 237h1v1h-1zM1253 237h1v1h-1zM1455 237h2v1h-2zM1641 237h2v1h-2zM339 238h1v1h-1zM1252 238h1v1h-1zM1457 238h2v1h-2zM1640 238h1v1h-1zM340 239h1v1h-1zM1251 239h1v1h-1zM1459 239h2v1h-2zM1638 239h2v1h-2zM341 240h1v1h-1zM1250 240h1v1h-1zM1461 240h2v1h-2zM1636 240h2v1h-2zM342 241h2v1h-2zM1249 241h1v1h-1zM1463 241h3v1h-3zM1634 241h2v1h-2zM344 242h1v1h-1zM1248 242h1v1h-1zM1466 242h2v1h-2zM1631 242h3v1h-3zM345 243h1v1h-1zM1247 243h1v1h-1zM1468 243h3v1h-3zM1629 243h2v1h-2zM346 244h1v1h-1zM1246 244h1v1h-1zM1471 244h2v1h-2zM1626 244h3v1h-3zM347 245h1v1h-1zM1245 245h1v1h-1zM1473 245h2v1h-2zM1624 245h2v1h-2zM348 246h1v1h-1zM1244 246h1v1h-1zM1475 246h2v1h-2zM1621 246h3v1h-3zM349 247h1v1h-1zM1243 247h1v1h-1zM1477 247h1v1h-1zM1619 247h2v1h-2zM350 248h1v1h-1zM1242 248h1v1h-1zM1478 248h2v1h-2zM1617 248h2v1h-2zM350 249h1v1h-1zM1241 249h1v1h-1zM1480 249h1v1h-1zM1615 249h2v1h-2zM351 250h1v1h-1zM1240 250h1v1h-1zM1481 250h1v1h-1zM1613 250h2v1h-2zM352 251h1v1h-1zM1239 251h1v1h-1zM1482 251h2v1h-2zM1611 251h2v1h-2zM353 252h1v1h-1zM1238 252h1v1h-1zM1484 252h1v1h-1zM1609 252h2v1h-2zM354 253h1v1h-1zM1237 253h1v1h-1zM1485 253h2v1h-2zM1607 253h2v1h-2zM355 254h1v1h-1zM1236 254h1v1h-1zM1487 254h1v1h-1zM1605 254h2v1h-2zM355 255h1v1h-1zM1235 255h1v1h-1zM1488 255h2v1h-2zM1603 255h2v1h-2zM356 256h1v1h-1zM1234 256h1v1h-1zM1490 256h2v1h-2zM1601 256h2v1h-2zM357 257h1v1h-1zM1233 257h1v1h-1zM1492 257h2v1h-2zM1599 257h2v1h-2zM358 258h1v1h-1zM1232 258h1v1h-1zM1494 258h2v1h-2zM1597 258h2v1h-2zM359 259h1v1h-1zM1231 259h1v1h-1zM1496 259h2v1h-2zM1595 259h2v1h-2zM360 260h1v1h-1zM1230 260h1v1h-1zM1498 260h2v1h-2zM1593 260h2v1h-2zM361 261h1v1h-1zM1229 261h1v1h-1zM1500 261h2v1h-2zM1592 261h1v1h-1zM362 262h1v1h-1zM1228 262h1v1h-1zM1502 262h2v1h-2zM1589 262h3v1h-3zM363 263h2v1h-2zM1227 263h1v1h-1zM1504 263h2v1h-2zM1588 263h1v1h-1zM365 264h1v1h-1zM1226 264h1v1h-1zM1506 264h2v1h-2zM1585 264h3v1h-3zM366 265h1v1h-1zM1225 265h1v1h-1zM1508 265h2v1h-2zM1584 265h1v1h-1zM367 266h1v1h-1zM1224 266h1v1h-1zM1510 266h3v1h-3zM1581 266h3v1h-3zM368 267h1v1h-1zM1223 267h1v1h-1zM1513 267h4v1h-4zM1580 267h1v1h-1zM369 268h1v1h-1zM1222 268h1v1h-1zM1517 268h4v1h-4zM1577 268h3v1h-3zM370 269h1v1h-1zM1222 269h1v1h-1zM1521 269h4v1h-4zM1575 269h2v1h-2zM371 270h1v1h-1zM1221 270h1v1h-1zM1525 270h4v1h-4zM1572 270h3v1h-3zM372 271h1v1h-1zM1220 271h1v1h-1zM1529 271h5v1h-5zM1569 271h3v1h-3zM373 272h1v1h-1zM1219 272h1v1h-1zM1534 272h5v1h-5zM1567 272h2v1h-2zM374 273h1v1h-1zM1218 273h1v1h-1zM1539 273h6v1h-6zM1563 273h4v1h-4zM375 274h1v1h-1zM1217 274h1v1h-1zM1545 274h7v1h-7zM1558 274h5v1h-5zM376 275h1v1h-1zM1216 275h1v1h-1zM1552 275h6v1h-6zM377 276h1v1h-1zM1215 276h1v1h-1zM378 277h1v1h-1zM1215 277h1v1h-1zM378 278h1v1h-1zM1214 278h1v1h-1zM379 279h1v1h-1zM1213 279h1v1h-1zM380 280h1v1h-1zM1212 280h1v1h-1zM381 281h1v1h-1zM1211 281h1v1h-1zM382 282h1v1h-1zM1210 282h1v1h-1zM383 283h1v1h-1zM1209 283h1v1h-1zM384 284h1v1h-1zM1208 284h1v1h-1zM385 285h1v1h-1zM1207 285h1v1h-1zM386 286h1v1h-1zM1207 286h1v1h-1zM386 287h1v1h-1zM1206 287h1v1h-1zM387 288h1v1h-1zM1205 288h1v1h-1zM388 289h1v1h-1zM1204 289h1v1h-1zM389 290h1v1h-1zM1203 290h1v1h-1zM389 291h1v1h-1zM1202 291h1v1h-1zM390 292h1v1h-1zM1201 292h1v1h-1zM391 293h1v1h-1zM1201 293h1v1h-1zM391 294h1v1h-1zM1200 294h1v1h-1zM392 295h1v1h-1zM1199 295h1v1h-1zM393 296h1v1h-1zM1199 296h1v1h-1zM394 297h1v1h-1zM1198 297h1v1h-1zM394 298h1v1h-1zM1197 298h1v1h-1zM395 299h1v1h-1zM1196 299h1v1h-1zM396 300h1v1h-1zM1195 300h1v1h-1zM397 301h1v1h-1zM1195 301h1v1h-1zM397 302h1v1h-1zM1194 302h1v1h-1zM398 303h1v1h-1zM1193 303h1v1h-1zM399 304h1v1h-1zM1193 304h1v1h-1zM399 305h1v1h-1zM1192 305h1v1h-1zM400 306h1v1h-1zM1191 306h1v1h-1zM400 307h1v1h-1zM1190 307h1v1h-1zM401 308h1v1h-1zM1189 308h1v1h-1zM401 309h1v1h-1zM1189 309h1v1h-1zM402 310h1v1h-1zM1188 310h1v1h-1zM402 311h1v1h-1zM1187 311h1v1h-1zM403 312h1v1h-1zM1187 312h1v1h-1zM403 313h1v1h-1zM699 313h4v1h-4zM1186 313h1v1h-1zM404 314h1v1h-1zM695 314h4v1h-4zM703 314h4v1h-4zM1185 314h1v1h-1zM404 315h1v1h-1zM691 315h4v1h-4zM707 315h4v1h-4zM1184 315h1v1h-1zM405 316h1v1h-1zM689 316h2v1h-2zM711 316h2v1h-2zM1183 316h1v1h-1zM405 317h1v1h-1zM687 317h2v1h-2zM713 317h2v1h-2zM1182 317h1v1h-1zM406 318h1v1h-1zM685 318h2v1h-2zM715 318h2v1h-2zM1181 318h1v1h-1zM406 319h1v1h-1zM683 319h2v1h-2zM717 319h2v1h-2zM1181 319h1v1h-1zM407 320h1v1h-1zM681 320h2v1h-2zM719 320h2v1h-2zM1180 320h1v1h-1zM407 321h1v1h-1zM679 321h2v1h-2zM721 321h4v1h-4zM1179 321h1v1h-1zM408 322h1v1h-1zM678 322h1v1h-1zM725 322h6v1h-6zM1178 322h1v1h-1zM408 323h1v1h-1zM677 323h1v1h-1zM731 323h4v1h-4zM1177 323h1v1h-1zM409 324h1v1h-1zM676 324h1v1h-1zM735 324h2v1h-2zM755 324h7v1h-7zM1176 324h1v1h-1zM409 325h1v1h-1zM675 325h1v1h-1zM737 325h3v1h-3zM752 325h3v1h-3zM762 325h18v1h-18zM1175 325h1v1h-1zM410 326h1v1h-1zM674 326h1v1h-1zM740 326h5v1h-5zM750 326h2v1h-2zM780 326h3v1h-3zM1174 326h1v1h-1zM410 327h1v1h-1zM672 327h2v1h-2zM745 327h5v1h-5zM783 327h3v1h-3zM1174 327h1v1h-1zM411 328h1v1h-1zM671 328h1v1h-1zM786 328h2v1h-2zM1173 328h1v1h-1zM412 329h1v1h-1zM670 329h1v1h-1zM788 329h2v1h-2zM1172 329h1v1h-1zM412 330h1v1h-1zM669 330h1v1h-1zM790 330h1v1h-1zM1171 330h1v1h-1zM413 331h1v1h-1zM667 331h2v1h-2zM791 331h2v1h-2zM1170 331h1v1h-1zM414 332h1v1h-1zM665 332h2v1h-2zM793 332h1v1h-1zM1169 332h1v1h-1zM414 333h1v1h-1zM663 333h2v1h-2zM794 333h2v1h-2zM1168 333h1v1h-1zM415 334h1v1h-1zM661 334h2v1h-2zM796 334h1v1h-1zM1167 334h1v1h-1zM416 335h1v1h-1zM659 335h2v1h-2zM797 335h1v1h-1zM1166 335h1v1h-1zM417 336h1v1h-1zM655 336h4v1h-4zM798 336h2v1h-2zM1166 336h1v1h-1zM417 337h1v1h-1zM651 337h4v1h-4zM800 337h1v1h-1zM1165 337h1v1h-1zM418 338h1v1h-1zM647 338h4v1h-4zM801 338h2v1h-2zM1164 338h1v1h-1zM419 339h1v1h-1zM641 339h6v1h-6zM803 339h1v1h-1zM1163 339h1v1h-1zM419 340h1v1h-1zM633 340h8v1h-8zM804 340h2v1h-2zM1162 340h1v1h-1zM420 341h1v1h-1zM628 341h5v1h-5zM806 341h2v1h-2zM1161 341h1v1h-1zM421 342h2v1h-2zM626 342h2v1h-2zM808 342h1v1h-1zM1160 342h1v1h-1zM423 343h2v1h-2zM624 343h2v1h-2zM809 343h2v1h-2zM1159 343h1v1h-1zM425 344h2v1h-2zM621 344h3v1h-3zM811 344h1v1h-1zM1159 344h1v1h-1zM427 345h2v1h-2zM619 345h2v1h-2zM812 345h2v1h-2zM1158 345h1v1h-1zM429 346h2v1h-2zM617 346h2v1h-2zM814 346h2v1h-2zM1157 346h1v1h-1zM431 347h2v1h-2zM615 347h2v1h-2zM816 347h2v1h-2zM1156 347h1v1h-1zM433 348h2v1h-2zM613 348h2v1h-2zM818 348h2v1h-2zM1155 348h1v1h-1zM435 349h2v1h-2zM458 349h13v1h-13zM612 349h1v1h-1zM820 349h2v1h-2zM1154 349h1v1h-1zM437 350h2v1h-2zM454 350h4v1h-4zM471 350h2v1h-2zM611 350h1v1h-1zM822 350h2v1h-2zM1153 350h1v1h-1zM439 351h2v1h-2zM450 351h4v1h-4zM473 351h2v1h-2zM610 351h1v1h-1zM824 351h2v1h-2zM1152 351h1v1h-1zM441 352h2v1h-2zM446 352h4v1h-4zM475 352h2v1h-2zM608 352h2v1h-2zM826 352h4v1h-4zM1151 352h1v1h-1zM443 353h3v1h-3zM477 353h3v1h-3zM607 353h1v1h-1zM830 353h5v1h-5zM1150 353h1v1h-1zM480 354h4v1h-4zM605 354h2v1h-2zM835 354h5v1h-5zM1149 354h1v1h-1zM484 355h4v1h-4zM604 355h1v1h-1zM840 355h4v1h-4zM1147 355h2v1h-2zM488 356h2v1h-2zM603 356h1v1h-1zM844 356h2v1h-2zM1146 356h1v1h-1zM490 357h1v1h-1zM601 357h2v1h-2zM846 357h3v1h-3zM1145 357h1v1h-1zM491 358h1v1h-1zM600 358h1v1h-1zM849 358h3v1h-3zM1144 358h1v1h-1zM492 359h1v1h-1zM599 359h1v1h-1zM852 359h2v1h-2zM1143 359h1v1h-1zM493 360h1v1h-1zM597 360h2v1h-2zM854 360h3v1h-3zM1142 360h1v1h-1zM494 361h1v1h-1zM596 361h1v1h-1zM857 361h2v1h-2zM1141 361h1v1h-1zM495 362h1v1h-1zM595 362h1v1h-1zM859 362h3v1h-3zM1139 362h2v1h-2zM496 363h1v1h-1zM594 363h1v1h-1zM862 363h3v1h-3zM1137 363h2v1h-2zM497 364h1v1h-1zM593 364h1v1h-1zM865 364h2v1h-2zM1135 364h2v1h-2zM498 365h1v1h-1zM592 365h1v1h-1zM867 365h24v1h-24zM1133 365h2v1h-2zM499 366h1v1h-1zM591 366h1v1h-1zM891 366h3v1h-3zM1131 366h2v1h-2zM500 367h1v1h-1zM589 367h2v1h-2zM894 367h2v1h-2zM1129 367h2v1h-2zM501 368h1v1h-1zM588 368h1v1h-1zM896 368h3v1h-3zM1126 368h3v1h-3zM502 369h1v1h-1zM587 369h1v1h-1zM899 369h18v1h-18zM1124 369h2v1h-2zM503 370h2v1h-2zM586 370h1v1h-1zM917 370h2v1h-2zM1121 370h3v1h-3zM505 371h1v1h-1zM585 371h1v1h-1zM919 371h2v1h-2zM1118 371h3v1h-3zM506 372h1v1h-1zM584 372h1v1h-1zM921 372h2v1h-2zM1115 372h3v1h-3zM507 373h1v1h-1zM583 373h1v1h-1zM923 373h2v1h-2zM1113 373h2v1h-2zM508 374h1v1h-1zM582 374h1v1h-1zM925 374h2v1h-2zM1103 374h10v1h-10zM509 375h1v1h-1zM580 375h2v1h-2zM927 375h2v1h-2zM1100 375h3v1h-3zM510 376h2v1h-2zM579 376h1v1h-1zM929 376h1v1h-1zM1097 376h3v1h-3zM512 377h1v1h-1zM578 377h1v1h-1zM930 377h2v1h-2zM1095 377h2v1h-2zM513 378h1v1h-1zM576 378h2v1h-2zM932 378h2v1h-2zM1092 378h3v1h-3zM514 379h1v1h-1zM575 379h1v1h-1zM934 379h2v1h-2zM1089 379h3v1h-3zM515 380h2v1h-2zM574 380h1v1h-1zM936 380h2v1h-2zM1079 380h10v1h-10zM517 381h2v1h-2zM572 381h2v1h-2zM938 381h2v1h-2zM1069 381h10v1h-10zM519 382h1v1h-1zM571 382h1v1h-1zM940 382h2v1h-2zM1066 382h3v1h-3zM520 383h2v1h-2zM570 383h1v1h-1zM942 383h2v1h-2zM987 383h16v1h-16zM1064 383h2v1h-2zM522 384h1v1h-1zM568 384h2v1h-2zM944 384h2v1h-2zM981 384h6v1h-6zM1003 384h18v1h-18zM1061 384h3v1h-3zM523 385h2v1h-2zM566 385h2v1h-2zM946 385h3v1h-3zM976 385h5v1h-5zM1021 385h9v1h-9zM1041 385h20v1h-20zM525 386h2v1h-2zM564 386h2v1h-2zM949 386h3v1h-3zM972 386h4v1h-4zM1030 386h11v1h-11zM527 387h2v1h-2zM562 387h2v1h-2zM952 387h2v1h-2zM968 387h4v1h-4zM529 388h3v1h-3zM560 388h2v1h-2zM954 388h14v1h-14zM532 389h3v1h-3zM558 389h2v1h-2zM535 390h3v1h-3zM556 390h2v1h-2zM538 391h18v1h-18z" fill="#ffa500" shape-rendering="crispEdges"/>
<path d="M213 87h11v1h-11zM186 88h27v1h-27zM224 88h6v1h-6zM183 89h3v1h-3zM230 89h7v1h-7zM180 90h3v1h-3zM237 90h6v1h-6zM177 91h3v1h-3zM243 91h4v1h-4zM175 92h2v1h-2zM247 92h2v1h-2zM172 93h3v1h-3zM249 93h2v1h-2zM169 94h3v1h-3zM251 94h1v1h-1zM166 95h3v1h-3zM252 95h2v1h-2zM164 96h2v1h-2zM254 96h1v1h-1zM162 97h2v1h-2zM255 97h2v1h-2zM159 98h3v1h-3zM257 98h2v1h-2zM157 99h2v1h-2zM259 99h1v1h-1zM154 100h3v1h-3zM260 100h1v1h-1zM152 101h2v1h-2zM261 101h1v1h-1zM150 102h2v1h-2zM262 102h2v1h-2zM148 103h2v1h-2zM264 103h1v1h-1zM145 104h3v1h-3zM265 104h1v1h-1zM144 105h1v1h-1zM266 105h1v1h-1zM141 106h3v1h-3zM267 106h1v1h-1zM140 107h1v1h-1zM268 107h1v1h-1zM137 108h3v1h-3zM269 108h1v1h-1zM136 109h1v1h-1zM270 109h2v1h-2zM133 110h3v1h-3zM272 110h1v1h-1zM132 111h1v1h-1zM273 111h1v1h-1zM130 112h2v1h-2zM274 112h1v1h-1zM128 113h2v1h-2zM275 113h1v1h-1zM126 114h2v1h-2zM276 114h1v1h-1zM125 115h1v1h-1zM277 115h1v1h-1zM123 116h2v1h-2zM278 116h1v1h-1zM121 117h2v1h-2zM279 117h1v1h-1zM120 118h1v1h-1zM280 118h2v1h-2zM118 119h2v1h-2zM282 119h1v1h-1zM116 120h2v1h-2zM283 120h1v1h-1zM114 121h2v1h-2zM284 121h1v1h-1zM113 122h1v1h-1zM285 122h1v1h-1zM111 123h2v1h-2zM286 123h1v1h-1zM109 124h2v1h-2zM287 124h1v1h-1zM108 125h1v1h-1zM288 125h2v1h-2zM106 126h2v1h-2zM290 126h1v1h-1zM104 127h2v1h-2zM291 127h2v1h-2zM102 128h2v1h-2zM293 128h1v1h-1zM100 129h2v1h-2zM294 129h1v1h-1zM99 130h1v1h-1zM295 130h2v1h-2zM97 131h2v1h-2zM297 131h1v1h-1zM95 132h2v1h-2zM298 132h2v1h-2zM93 133h2v1h-2zM300 133h2v1h-2zM92 134h1v1h-1zM302 134h3v1h-3zM90 135h2v1h-2zM305 135h4v1h-4zM88 136h2v1h-2zM309 136h3v1h-3zM86 137h2v1h-2zM312 137h4v1h-4zM84 138h2v1h-2zM316 138h3v1h-3zM83 139h1v1h-1zM319 139h2v1h-2zM82 140h1v1h-1zM321 140h2v1h-2zM81 141h1v1h-1zM323 141h2v1h-2zM79 142h2v1h-2zM325 142h1v1h-1zM78 143h1v1h-1zM326 143h2v1h-2zM77 144h1v1h-1zM328 144h2v1h-2zM76 145h1v1h-1zM330 145h1v1h-1zM74 146h2v1h-2zM331 146h2v1h-2zM73 147h1v1h-1zM333 147h2v1h-2zM72 148h1v1h-1zM335 148h1v1h-1zM71 149h1v1h-1zM336 149h2v1h-2zM70 150h1v1h-1zM338 150h2v1h-2zM69 151h1v1h-1zM340 151h2v1h-2zM67 152h2v1h-2zM342 152h4v1h-4zM66 153h1v1h-1zM346 153h3v1h-3zM65 154h1v1h-1zM349 154h4v1h-4zM63 155h2v1h-2zM353 155h3v1h-3zM61 156h2v1h-2zM356 156h4v1h-4zM60 157h1v1h-1zM360 157h3v1h-3zM58 158h2v1h-2zM363 158h3v1h-3zM56 159h2v1h-2zM366 159h3v1h-3zM54 160h2v1h-2zM369 160h3v1h-3zM53 161h1v1h-1zM372 161h4v1h-4zM51 162h2v1h-2zM376 162h3v1h-3zM49 163h2v1h-2zM379 163h3v1h-3zM47 164h2v1h-2zM382 164h2v1h-2zM45 165h2v1h-2zM384 165h2v1h-2zM43 166h2v1h-2zM386 166h2v1h-2zM41 167h2v1h-2zM388 167h2v1h-2zM39 168h2v1h-2zM390 168h2v1h-2zM37 169h2v1h-2zM392 169h1v1h-1zM34 170h3v1h-3zM393 170h2v1h-2zM30 171h4v1h-4zM395 171h2v1h-2zM27 172h3v1h-3zM397 172h2v1h-2zM24 173h3v1h-3zM399 173h2v1h-2zM20 174h4v1h-4zM401 174h2v1h-2zM18 175h2v1h-2zM403 175h1v1h-1zM16 176h2v1h-2zM404 176h1v1h-1zM14 177h2v1h-2zM405 177h2v1h-2zM12 178h2v1h-2zM407 178h1v1h-1zM10 179h2v1h-2zM408 179h1v1h-1zM8 180h2v1h-2zM409 180h1v1h-1zM6 181h2v1h-2zM410 181h1v1h-1zM4 182h2v1h-2zM411 182h2v1h-2zM3 183h1v1h-1zM413 183h1v1h-1zM414 184h1v1h-1zM415 185h1v1h-1zM416 186h1v1h-1zM417 187h2v1h-2zM419 188h1v1h-1zM420 189h1v1h-1zM421 190h1v1h-1zM422 191h1v1h-1zM423 192h2v1h-2zM425 193h1v1h-1zM426 194h1v1h-1zM427 195h1v1h-1zM428 196h1v1h-1zM429 197h1v1h-1zM430 198h2v1h-2zM432 199h1v1h-1zM433 200h1v1h-1zM434 201h1v1h-1zM435 202h1v1h-1zM436 203h1v1h-1zM437 204h1v1h-1zM438 205h1v1h-1zM439 206h2v1h-2zM441 207h1v1h-1zM442 208h1v1h-1zM443 209h1v1h-1zM444 210h1v1h-1zM445 211h2v1h-2zM447 212h2v1h-2zM449 213h2v1h-2zM451 214h1v1h-1zM452 215h2v1h-2zM454 216h2v1h-2zM456 217h2v1h-2zM458 218h2v1h-2zM460 219h1v1h-1zM461 220h2v1h-2zM463 221h2v1h-2zM465 222h2v1h-2zM467 223h1v1h-1zM468 224h2v1h-2zM470 225h2v1h-2zM472 226h1v1h-1zM473 227h2v1h-2zM475 228h2v1h-2zM1655 228h14v1h-14zM477 229h2v1h-2zM1576 229h17v1h-17zM1632 229h23v1h-23zM479 230h1v1h-1zM1570 230h6v1h-6zM1593 230h39v1h-39zM480 231h2v1h-2zM1564 231h6v1h-6zM482 232h2v1h-2zM1558 232h6v1h-6zM484 233h1v1h-1zM1552 233h6v1h-6zM485 234h2v1h-2zM1545 234h7v1h-7zM487 235h2v1h-2zM1539 235h6v1h-6zM489 236h1v1h-1zM1533 236h6v1h-6zM490 237h1v1h-1zM1527 237h6v1h-6zM491 238h1v1h-1zM1523 238h4v1h-4zM492 239h1v1h-1zM1518 239h5v1h-5zM493 240h1v1h-1zM1514 240h4v1h-4zM494 241h1v1h-1zM1510 241h4v1h-4zM495 242h1v1h-1zM1506 242h4v1h-4zM496 243h1v1h-1zM1502 243h4v1h-4zM497 244h2v1h-2zM1498 244h4v1h-4zM499 245h1v1h-1zM1494 245h4v1h-4zM500 246h1v1h-1zM1491 246h3v1h-3zM501 247h1v1h-1zM1487 247h4v1h-4zM502 248h1v1h-1zM1484 248h3v1h-3zM503 249h1v1h-1zM1480 249h4v1h-4zM504 250h1v1h-1zM1476 250h4v1h-4zM505 251h1v1h-1zM1473 251h3v1h-3zM506 252h1v1h-1zM1469 252h4v1h-4zM507 253h1v1h-1zM1465 253h4v1h-4zM508 254h1v1h-1zM1461 254h4v1h-4zM509 255h2v1h-2zM1457 255h4v1h-4zM511 256h1v1h-1zM1453 256h4v1h-4zM512 257h1v1h-1zM1449 257h4v1h-4zM513 258h1v1h-1zM1444 258h5v1h-5zM514 259h1v1h-1zM1440 259h4v1h-4zM515 260h1v1h-1zM1435 260h5v1h-5zM516 261h2v1h-2zM1430 261h5v1h-5zM518 262h1v1h-1zM1426 262h4v1h-4zM519 263h1v1h-1zM1421 263h5v1h-5zM520 264h1v1h-1zM1416 264h5v1h-5zM521 265h2v1h-2zM1409 265h7v1h-7zM523 266h1v1h-1zM1404 266h5v1h-5zM524 267h1v1h-1zM1398 267h6v1h-6zM525 268h2v1h-2zM1394 268h4v1h-4zM527 269h1v1h-1zM1390 269h4v1h-4zM528 270h1v1h-1zM1386 270h4v1h-4zM529 271h1v1h-1zM1382 271h4v1h-4zM530 272h2v1h-2zM1379 272h3v1h-3zM532 273h1v1h-1zM1375 273h4v1h-4zM533 274h1v1h-1zM1372 274h3v1h-3zM534 275h2v1h-2zM1369 275h3v1h-3zM536 276h2v1h-2zM1365 276h4v1h-4zM538 277h2v1h-2zM1362 277h3v1h-3zM540 278h2v1h-2zM1359 278h3v1h-3zM542 279h2v1h-2zM1356 279h3v1h-3zM544 280h1v1h-1zM1352 280h4v1h-4zM545 281h2v1h-2zM1349 281h3v1h-3zM547 282h2v1h-2zM1346 282h3v1h-3zM549 283h2v1h-2zM1343 283h3v1h-3zM551 284h2v1h-2zM1341 284h2v1h-2zM553 285h2v1h-2zM1339 285h2v1h-2zM555 286h2v1h-2zM1337 286h2v1h-2zM557 287h2v1h-2zM1335 287h2v1h-2zM559 288h2v1h-2zM1334 288h1v1h-1zM561 289h2v1h-2zM1332 289h2v1h-2zM563 290h2v1h-2zM1330 290h2v1h-2zM565 291h2v1h-2zM1329 291h1v1h-1zM567 292h2v1h-2zM1327 292h2v1h-2zM569 293h2v1h-2zM1325 293h2v1h-2zM571 294h2v1h-2zM1323 294h2v1h-2zM573 295h2v1h-2zM1322 295h1v1h-1zM575 296h2v1h-2zM1319 296h3v1h-3zM577 297h2v1h-2zM1318 297h1v1h-1zM579 298h1v1h-1zM1315 298h3v1h-3zM580 299h2v1h-2zM1314 299h1v1h-1zM582 300h2v1h-2zM1311 300h3v1h-3zM584 301h1v1h-1zM1310 301h1v1h-1zM585 302h2v1h-2zM1307 302h3v1h-3zM587 303h2v1h-2zM1306 303h1v1h-1zM589 304h2v1h-2zM1303 304h3v1h-3zM591 305h2v1h-2zM1302 305h1v1h-1zM593 306h2v1h-2zM1299 306h3v1h-3zM595 307h3v1h-3zM1298 307h1v1h-1zM598 308h2v1h-2zM1295 308h3v1h-3zM600 309h2v1h-2zM1293 309h2v1h-2zM602 310h3v1h-3zM1290 310h3v1h-3zM605 311h2v1h-2zM1288 311h2v1h-2zM607 312h3v1h-3zM1285 312h3v1h-3zM610 313h4v1h-4zM1283 313h2v1h-2zM614 314h6v1h-6zM1280 314h3v1h-3zM620 315h4v1h-4zM1277 315h3v1h-3zM624 316h3v1h-3zM1275 316h2v1h-2zM627 317h3v1h-3zM1272 317h3v1h-3zM630 318h3v1h-3zM1270 318h2v1h-2zM633 319h3v1h-3zM1267 319h3v1h-3zM636 320h2v1h-2zM1265 320h2v1h-2zM638 321h2v1h-2zM1263 321h2v1h-2zM640 322h2v1h-2zM1261 322h2v1h-2zM642 323h2v1h-2zM1259 323h2v1h-2zM644 324h2v1h-2zM1257 324h2v1h-2zM646 325h2v1h-2zM1255 325h2v1h-2zM648 326h2v1h-2zM1253 326h2v1h-2zM650 327h2v1h-2zM1251 327h2v1h-2zM652 328h1v1h-1zM1249 328h2v1h-2zM653 329h2v1h-2zM1247 329h2v1h-2zM655 330h2v1h-2zM1245 330h2v1h-2zM657 331h2v1h-2zM1243 331h2v1h-2zM659 332h2v1h-2zM1241 332h2v1h-2zM661 333h2v1h-2zM1239 333h2v1h-2zM663 334h2v1h-2zM1237 334h2v1h-2zM665 335h2v1h-2zM1234 335h3v1h-3zM667 336h2v1h-2zM1232 336h2v1h-2zM669 337h2v1h-2zM1230 337h2v1h-2zM671 338h3v1h-3zM1228 338h2v1h-2zM674 339h3v1h-3zM1226 339h2v1h-2zM677 340h3v1h-3zM1224 340h2v1h-2zM680 341h2v1h-2zM1220 341h4v1h-4zM682 342h7v1h-7zM1216 342h4v1h-4zM689 343h34v1h-34zM1212 343h4v1h-4zM723 344h13v1h-13zM1208 344h4v1h-4zM736 345h8v1h-8zM1204 345h4v1h-4zM744 346h8v1h-8zM763 346h24v1h-24zM1200 346h4v1h-4zM752 347h11v1h-11zM787 347h6v1h-6zM1196 347h4v1h-4zM793 348h6v1h-6zM877 348h13v1h-13zM1192 348h4v1h-4zM799 349h3v1h-3zM867 349h10v1h-10zM890 349h9v1h-9zM950 349h34v1h-34zM1188 349h4v1h-4zM802 350h2v1h-2zM859 350h8v1h-8zM899 350h4v1h-4zM945 350h5v1h-5zM984 350h5v1h-5zM1184 350h4v1h-4zM804 351h3v1h-3zM854 351h5v1h-5zM903 351h4v1h-4zM941 351h4v1h-4zM989 351h4v1h-4zM1181 351h3v1h-3zM807 352h3v1h-3zM851 352h3v1h-3zM907 352h4v1h-4zM936 352h5v1h-5zM993 352h5v1h-5zM1179 352h2v1h-2zM810 353h2v1h-2zM848 353h3v1h-3zM911 353h25v1h-25zM998 353h5v1h-5zM1176 353h3v1h-3zM812 354h5v1h-5zM844 354h4v1h-4zM1003 354h6v1h-6zM1173 354h3v1h-3zM817 355h6v1h-6zM841 355h3v1h-3zM1009 355h5v1h-5zM1170 355h3v1h-3zM823 356h18v1h-18zM1014 356h6v1h-6zM1168 356h2v1h-2zM1020 357h6v1h-6zM1165 357h3v1h-3zM1026 358h6v1h-6zM1162 358h3v1h-3zM1032 359h6v1h-6zM1160 359h2v1h-2zM1038 360h6v1h-6zM1157 360h3v1h-3zM1044 361h4v1h-4zM1155 361h2v1h-2zM1048 362h5v1h-5zM1153 362h2v1h-2zM1053 363h4v1h-4zM1151 363h2v1h-2zM1057 364h4v1h-4zM1149 364h2v1h-2zM1061 365h4v1h-4zM1147 365h2v1h-2zM1065 366h4v1h-4zM1145 366h2v1h-2zM1069 367h4v1h-4zM1143 367h2v1h-2zM1073 368h4v1h-4zM1141 368h2v1h-2zM1077 369h64v1h-64z" fill="#ff00ff" shape-rendering="crispEdges"/>
<g shape-rendering="crispEdges">
<rect x="4" y="122" width="1681" height="2" fill="#ff0000"/>
<rect x="4" y="252" width="1681" height="2" fill="#32cd32"/>
<rect x="4" y="329" width="1681" height="2" fill="#4169e1"/>
<rect x="4" y="432" width="1681" height="2" fill="#4169e1"/>
<rect x="4" y="565" width="1" height="15" fill="#c0c0c0"/>
<rect x="12" y="561" width="1" height="19" fill="#c0c0c0"/>
<rect x="20" y="558" width="1" height="22" fill="#c0c0c0"/>
<rect x="28" y="556" width="1" height="24" fill="#c0c0c0"/>
<rect x="36" y="556" width="1" height="24" fill="#c0c0c0"/>
<rect x="44" y="556" width="1" height="24" fill="#c0c0c0"/>
<rect x="52" y="556" width="1" height="24" fill="#c0c0c0"/>
<rect x="60" y="558" width="1" height="22" fill="#c0c0c0"/>
<rect x="68" y="559" width="1" height="21" fill="#c0c0c0"/>
<rect x="76" y="558" width="1" height="22" fill="#c0c0c0"/>
<rect x="84" y="557" width="1" height="23" fill="#c0c0c0"/>
<rect x="92" y="555" width="1" height="25" fill="#c0c0c0"/>
<rect x="100" y="558" width="1" height="22" fill="#c0c0c0"/>
<rect x="108" y="564" width="1" height="16" fill="#c0c0c0"/>
<rect x="116" y="566" width="1" height="14" fill="#c0c0c0"/>
<rect x="124" y="568" width="1" height="12" fill="#c0c0c0"/>
<rect x="132" y="572" width="1" height="8" fill="#c0c0c0"/>
<rect x="140" y="575" width="1" height="5" fill="#c0c0c0"/>
<rect x="148" y="579" width="1" height="1" fill="#c0c0c0"/>
<rect x="156" y="579" width="1" height="2" fill="#c0c0c0"/>
<rect x="164" y="579" width="1" height="4" fill="#c0c0c0"/>
<rect x="172" y="579" width="1" height="5" fill="#c0c0c0"/>
<rect x="180" y="579" width="1" height="6" fill="#c0c0c0"/>
<rect x="188" y="579" width="1" height="5" fill="#c0c0c0"/>
<rect x="196" y="579" width="1" height="7" fill="#c0c0c0"/>
<rect x="204" y="579" width="1" height="11" fill="#c0c0c0"/>
<rect x="212" y="579" width="1" height="11" fill="#c0c0c0"/>
<rect x="220" y="579" width="1" height="11" fill="#c0c0c0"/>
<rect x="228" y="579" width="1" height="13" fill="#c0c0c0"/>
<rect x="236" y="579" width="1" height="15" fill="#c0c0c0"/>
<rect x="244" y="579" width="1" height="16" fill="#c0c0c0"/>
<rect x="252" y="579" width="1" height="27" fill="#c0c0c0"/>
<rect x="260" y="579" width="1" height="44" fill="#c0c0c0"/>
<rect x="268" y="579" width="1" height="58" fill="#c0c0c0"/>
<rect x="276" y="579" width="1" height="67" fill="#c0c0c0"/>
<rect x="284" y="579" width="1" height="74" fill="#c0c0c0"/>
<rect x="292" y="579" width="1" height="79" fill="#c0c0c0"/>
<rect x="300" y="579" width="1" height="78" fill="#c0c0c0"/>
<rect x="308" y="579" width="1" height="73" fill="#c0c0c0"/>
<rect x="316" y="579" width="1" height="68" fill="#c0c0c0"/>
<rect x="324" y="579" width="1" height="66" fill="#c0c0c0"/>
<rect x="332" y="579" width="1" height="63" fill="#c0c0c0"/>
<rect x="340" y="579" width="1" height="62" fill="#c0c0c0"/>
<rect x="348" y="579" width="1" height="56" fill="#c0c0c0"/>
<rect x="356" y="579" width="1" height="51" fill="#c0c0c0"/>
<rect x="364" y="579" width="1" height="48" fill="#c0c0c0"/>
<rect x="372" y="579" width="1" height="44" fill="#c0c0c0"/>
<rect x="380" y="579" width="1" height="43" fill="#c0c0c0"/>
<rect x="388" y="579" width="1" height="41" fill="#c0c0c0"/>
<rect x="396" y="579" width="1" height="48" fill="#c0c0c0"/>
<rect x="404" y="579" width="1" height="54" fill="#c0c0c0"/>
<rect x="412" y="579" width="1" height="65" fill="#c0c0c0"/>
<rect x="420" y="579" width="1" height="72" fill="#c0c0c0"/>
<rect x="428" y="579" width="1" height="75" fill="#c0c0c0"/>
<rect x="436" y="579" width="1" height="74" fill="#c0c0c0"/>
<rect x="444" y="579" width="1" height="71" fill="#c0c0c0"/>
<rect x="452" y="579" width="1" height="59" fill="#c0c0c0"/>
<rect x="460" y="579" width="1" height="49" fill="#c0c0c0"/>
<rect x="468" y="579" width="1" height="40" fill="#c0c0c0"/>
<rect x="476" y="579" width="1" height="36" fill="#c0c0c0"/>
<rect x="484" y="579" width="1" height="31" fill="#c0c0c0"/>
<rect x="492" y="579" width="1" height="31" fill="#c0c0c0"/>
<rect x="500" y="579" width="1" height="38" fill="#c0c0c0"/>
<rect x="508" y="579" width="1" height="40" fill="#c0c0c0"/>
<rect x="516" y="579" width="1" height="40" fill="#c0c0c0"/>
<rect x="524" y="579" width="1" height="38" fill="#c0c0c0"/>
<rect x="532" y="579" width="1" height="33" fill="#c0c0c0"/>
<rect x="540" y="579" width="1" height="26" fill="#c0c0c0"/>
<rect x="548" y="579" width="1" height="17" fill="#c0c0c0"/>
<rect x="556" y="579" width="1" height="11" fill="#c0c0c0"/>
<rect x="564" y="579" width="1" height="5" fill="#c0c0c0"/>
<rect x="580" y="579" width="1" height="2" fill="#c0c0c0"/>
<rect x="588" y="579" width="1" height="2" fill="#c0c0c0"/>
<rect x="596" y="576" width="1" height="4" fill="#c0c0c0"/>
<rect x="604" y="572" width="1" height="8" fill="#c0c0c0"/>
<rect x="612" y="567" width="1" height="13" fill="#c0c0c0"/>
<rect x="620" y="561" width="1" height="19" fill="#c0c0c0"/>
<rect x="628" y="558" width="1" height="22" fill="#c0c0c0"/>
<rect x="636" y="557" width="1" height="23" fill="#c0c0c0"/>
<rect x="644" y="562" width="1" height="18" fill="#c0c0c0"/>
<rect x="652" y="566" width="1" height="14" fill="#c0c0c0"/>
<rect x="660" y="568" width="1" height="12" fill="#c0c0c0"/>
<rect x="668" y="571" width="1" height="9" fill="#c0c0c0"/>
<rect x="676" y="572" width="1" height="8" fill="#c0c0c0"/>
<rect x="684" y="573" width="1" height="7" fill="#c0c0c0"/>
<rect x="692" y="575" width="1" height="5" fill="#c0c0c0"/>
<rect x="700" y="576" width="1" height="4" fill="#c0c0c0"/>
<rect x="708" y="579" width="1" height="1" fill="#c0c0c0"/>
<rect x="716" y="579" width="1" height="6" fill="#c0c0c0"/>
<rect x="724" y="579" width="1" height="9" fill="#c0c0c0"/>
<rect x="732" y="579" width="1" height="7" fill="#c0c0c0"/>
<rect x="740" y="579" width="1" height="11" fill="#c0c0c0"/>
<rect x="748" y="579" width="1" height="12" fill="#c0c0c0"/>
<rect x="756" y="579" width="1" height="4" fill="#c0c0c0"/>
<rect x="772" y="577" width="1" height="3" fill="#c0c0c0"/>
<rect x="780" y="576" width="1" height="4" fill="#c0c0c0"/>
<rect x="788" y="575" width="1" height="5" fill="#c0c0c0"/>
<rect x="804" y="579" width="1" height="5" fill="#c0c0c0"/>
<rect x="812" y="579" width="1" height="12" fill="#c0c0c0"/>
<rect x="820" y="579" width="1" height="17" fill="#c0c0c0"/>
<rect x="828" y="579" width="1" height="18" fill="#c0c0c0"/>
<rect x="836" y="579" width="1" height="17" fill="#c0c0c0"/>
<rect x="844" y="579" width="1" height="17" fill="#c0c0c0"/>
<rect x="852" y="579" width="1" height="15" fill="#c0c0c0"/>
<rect x="860" y="579" width="1" height="15" fill="#c0c0c0"/>
<rect x="868" y="579" width="1" height="17" fill="#c0c0c0"/>
<rect x="876" y="579" width="1" height="17" fill="#c0c0c0"/>
<rect x="884" y="579" width="1" height="15" fill="#c0c0c0"/>
<rect x="892" y="579" width="1" height="13" fill="#c0c0c0"/>
<rect x="900" y="579" width="1" height="18" fill="#c0c0c0"/>
<rect x="908" y="579" width="1" height="17" fill="#c0c0c0"/>
<rect x="916" y="579" width="1" height="15" fill="#c0c0c0"/>
<rect x="924" y="579" width="1" height="13" fill="#c0c0c0"/>
<rect x="932" y="579" width="1" height="12" fill="#c0c0c0"/>
<rect x="940" y="579" width="1" height="11" fill="#c0c0c0"/>
<rect x="948" y="579" width="1" height="9" fill="#c0c0c0"/>
<rect x="956" y="579" width="1" height="7" fill="#c0c0c0"/>
<rect x="964" y="579" width="1" height="7" fill="#c0c0c0"/>
<rect x="972" y="579" width="1" height="6" fill="#c0c0c0"/>
<rect x="980" y="579" width="1" height="6" fill="#c0c0c0"/>
<rect x="988" y="579" width="1" height="6" fill="#c0c0c0"/>
<rect x="996" y="579" width="1" height="6" fill="#c0c0c0"/>
<rect x="1004" y="579" width="1" height="6" fill="#c0c0c0"/>
<rect x="1012" y="579" width="1" height="7" fill="#c0c0c0"/>
<rect x="1020" y="579" width="1" height="6" fill="#c0c0c0"/>
<rect x="1028" y="579" width="1" height="6" fill="#c0c0c0"/>
<rect x="1036" y="579" width="1" height="9" fill="#c0c0c0"/>
<rect x="1044" y="579" width="1" height="5" fill="#c0c0c0"/>
<rect x="1052" y="579" width="1" height="3" fill="#c0c0c0"/>
<rect x="1060" y="579" width="1" height="2" fill="#c0c0c0"/>
<rect x="1084" y="578" width="1" height="2" fill="#c0c0c0"/>
<rect x="1092" y="577" width="1" height="3" fill="#c0c0c0"/>
<rect x="1100" y="574" width="1" height="6" fill="#c0c0c0"/>
<rect x="1108" y="572" width="1" height="8" fill="#c0c0c0"/>
<rect x="1116" y="570" width="1" height="10" fill="#c0c0c0"/>
<rect x="1124" y="567" width="1" height="13" fill="#c0c0c0"/>
<rect x="1132" y="565" width="1" height="15" fill="#c0c0c0"/>
<rect x="1140" y="561" width="1" height="19" fill="#c0c0c0"/>
<rect x="1148" y="550" width="1" height="30" fill="#c0c0c0"/>
<rect x="1156" y="542" width="1" height="38" fill="#c0c0c0"/>
<rect x="1164" y="537" width="1" height="43" fill="#c0c0c0"/>
<rect x="1172" y="531" width="1" height="49" fill="#c0c0c0"/>
<rect x="1180" y="529" width="1" height="51" fill="#c0c0c0"/>
<rect x="1188" y="527" width="1" height="53" fill="#c0c0c0"/>
<rect x="1196" y="526" width="1" height="54" fill="#c0c0c0"/>
<rect x="1204" y="524" width="1" height="56" fill="#c0c0c0"/>
<rect x="1212" y="523" width="1" height="57" fill="#c0c0c0"/>
<rect x="1220" y="523" width="1" height="57" fill="#c0c0c0"/>
<rect x="1228" y="522" width="1" height="58" fill="#c0c0c0"/>
<rect x="1236" y="523" width="1" height="57" fill="#c0c0c0"/>
<rect x="1244" y="526" width="1" height="54" fill="#c0c0c0"/>
<rect x="1252" y="529" width="1" height="51" fill="#c0c0c0"/>
<rect x="1260" y="532" width="1" height="48" fill="#c0c0c0"/>
<rect x="1268" y="537" width="1" height="43" fill="#c0c0c0"/>
<rect x="1276" y="540" width="1" height="40" fill="#c0c0c0"/>
<rect x="1284" y="541" width="1" height="39" fill="#c0c0c0"/>
<rect x="1292" y="544" width="1" height="36" fill="#c0c0c0"/>
<rect x="1300" y="546" width="1" height="34" fill="#c0c0c0"/>
<rect x="1308" y="547" width="1" height="33" fill="#c0c0c0"/>
<rect x="1316" y="547" width="1" height="33" fill="#c0c0c0"/>
<rect x="1324" y="546" width="1" height="34" fill="#c0c0c0"/>
<rect x="1332" y="544" width="1" height="36" fill="#c0c0c0"/>
<rect x="1340" y="546" width="1" height="34" fill="#c0c0c0"/>
<rect x="1348" y="554" width="1" height="26" fill="#c0c0c0"/>
<rect x="1356" y="559" width="1" height="21" fill="#c0c0c0"/>
<rect x="1364" y="565" width="1" height="15" fill="#c0c0c0"/>
<rect x="1372" y="570" width="1" height="10" fill="#c0c0c0"/>
<rect x="1380" y="573" width="1" height="7" fill="#c0c0c0"/>
<rect x="1396" y="579" width="1" height="4" fill="#c0c0c0"/>
<rect x="1404" y="579" width="1" height="11" fill="#c0c0c0"/>
<rect x="1412" y="579" width="1" height="16" fill="#c0c0c0"/>
<rect x="1420" y="579" width="1" height="20" fill="#c0c0c0"/>
<rect x="1428" y="579" width="1" height="24" fill="#c0c0c0"/>
<rect x="1436" y="579" width="1" height="25" fill="#c0c0c0"/>
<rect x="1444" y="579" width="1" height="24" fill="#c0c0c0"/>
<rect x="1452" y="579" width="1" height="23" fill="#c0c0c0"/>
<rect x="1460" y="579" width="1" height="20" fill="#c0c0c0"/>
<rect x="1468" y="579" width="1" height="18" fill="#c0c0c0"/>
<rect x="1476" y="579" width="1" height="16" fill="#c0c0c0"/>
<rect x="1484" y="579" width="1" height="15" fill="#c0c0c0"/>
<rect x="1492" y="579" width="1" height="13" fill="#c0c0c0"/>
<rect x="1500" y="579" width="1" height="9" fill="#c0c0c0"/>
<rect x="1508" y="579" width="1" height="8" fill="#c0c0c0"/>
<rect x="1516" y="579" width="1" height="7" fill="#c0c0c0"/>
<rect x="1524" y="579" width="1" height="6" fill="#c0c0c0"/>
<rect x="1532" y="579" width="1" height="7" fill="#c0c0c0"/>
<rect x="1540" y="579" width="1" height="10" fill="#c0c0c0"/>
<rect x="1548" y="579" width="1" height="8" fill="#c0c0c0"/>
<rect x="1556" y="579" width="1" height="7" fill="#c0c0c0"/>
<rect x="1564" y="579" width="1" height="5" fill="#c0c0c0"/>
<rect x="1572" y="579" width="1" height="3" fill="#c0c0c0"/>
<rect x="1588" y="578" width="1" height="2" fill="#c0c0c0"/>
<rect x="1596" y="577" width="1" height="3" fill="#c0c0c0"/>
<rect x="1604" y="572" width="1" height="8" fill="#c0c0c0"/>
<rect x="1612" y="569" width="1" height="11" fill="#c0c0c0"/>
<rect x="1620" y="567" width="1" height="13" fill="#c0c0c0"/>
<rect x="1628" y="566" width="1" height="14" fill="#c0c0c0"/>
<rect x="1636" y="562" width="1" height="18" fill="#c0c0c0"/>
<rect x="1644" y="556" width="1" height="24" fill="#c0c0c0"/>
<rect x="1652" y="553" width="1" height="27" fill="#c0c0c0"/>
<rect x="1660" y="552" width="1" height="28" fill="#c0c0c0"/>
<rect x="1668" y="552" width="1" height="28" fill="#c0c0c0"/>
</g>
<path d="M1234 524h3v1h-3zM1240 524h3v1h-3zM1246 524h3v1h-3zM1252 524h3v1h-3zM1258 524h3v1h-3zM1264 524h1v1h-1zM1265 525h2v1h-2zM1270 525h1v1h-1zM1228 526h3v1h-3zM1271 526h2v1h-2zM1224 527h1v1h-1zM1276 527h3v1h-3zM1222 528h2v1h-2zM1218 529h1v1h-1zM1282 529h3v1h-3zM1216 530h2v1h-2zM1288 530h2v1h-2zM1211 531h2v1h-2zM1290 531h1v1h-1zM1294 531h1v1h-1zM1210 532h1v1h-1zM1295 532h2v1h-2zM1300 533h2v1h-2zM1206 534h1v1h-1zM1302 534h1v1h-1zM1204 535h2v1h-2zM1306 536h1v1h-1zM1307 537h2v1h-2zM1312 537h1v1h-1zM1200 538h1v1h-1zM1313 538h2v1h-2zM1198 539h2v1h-2zM1318 539h2v1h-2zM1320 540h1v1h-1zM1324 541h3v1h-3zM1194 542h1v1h-1zM1192 543h2v1h-2zM1330 543h3v1h-3zM1336 543h1v1h-1zM1337 544h2v1h-2zM1342 544h3v1h-3zM1187 545h2v1h-2zM1348 545h3v1h-3zM1186 546h1v1h-1zM1354 547h3v1h-3zM1182 548h1v1h-1zM1360 548h2v1h-2zM1180 549h2v1h-2zM1362 549h1v1h-1zM1366 550h2v1h-2zM1368 551h1v1h-1zM1175 552h2v1h-2zM1372 552h2v1h-2zM1174 553h1v1h-1zM1374 553h1v1h-1zM1378 554h1v1h-1zM1170 555h1v1h-1zM1379 555h2v1h-2zM76 556h3v1h-3zM82 556h3v1h-3zM88 556h3v1h-3zM94 556h3v1h-3zM100 556h3v1h-3zM1169 556h1v1h-1zM65 557h2v1h-2zM70 557h3v1h-3zM106 557h3v1h-3zM112 557h1v1h-1zM1168 557h1v1h-1zM1384 557h2v1h-2zM58 558h3v1h-3zM64 558h1v1h-1zM113 558h2v1h-2zM118 558h3v1h-3zM1386 558h1v1h-1zM124 559h3v1h-3zM1163 559h2v1h-2zM52 560h3v1h-3zM1162 560h1v1h-1zM1390 560h1v1h-1zM1667 560h2v1h-2zM46 561h3v1h-3zM130 561h3v1h-3zM136 561h1v1h-1zM1391 561h2v1h-2zM1666 561h1v1h-1zM40 562h3v1h-3zM137 562h2v1h-2zM1158 562h1v1h-1zM1662 562h1v1h-1zM142 563h2v1h-2zM665 563h2v1h-2zM670 563h3v1h-3zM676 563h3v1h-3zM1156 563h2v1h-2zM1396 563h1v1h-1zM1660 563h2v1h-2zM34 564h3v1h-3zM144 564h1v1h-1zM658 564h3v1h-3zM664 564h1v1h-1zM682 564h3v1h-3zM688 564h1v1h-1zM1397 564h2v1h-2zM1655 564h2v1h-2zM148 565h2v1h-2zM652 565h3v1h-3zM689 565h2v1h-2zM1654 565h1v1h-1zM28 566h3v1h-3zM150 566h1v1h-1zM647 566h2v1h-2zM694 566h2v1h-2zM1151 566h2v1h-2zM1648 566h3v1h-3zM22 567h3v1h-3zM154 567h1v1h-1zM646 567h1v1h-1zM696 567h1v1h-1zM1150 567h1v1h-1zM1402 567h2v1h-2zM16 568h3v1h-3zM155 568h2v1h-2zM640 568h3v1h-3zM700 568h3v1h-3zM1146 568h1v1h-1zM1404 568h1v1h-1zM1643 568h2v1h-2zM1144 569h2v1h-2zM1642 569h1v1h-1zM10 570h3v1h-3zM160 570h3v1h-3zM635 570h2v1h-2zM706 570h3v1h-3zM1139 570h2v1h-2zM1638 570h1v1h-1zM4 571h3v1h-3zM634 571h1v1h-1zM1138 571h1v1h-1zM1408 571h1v1h-1zM1636 571h2v1h-2zM166 572h2v1h-2zM630 572h1v1h-1zM712 572h2v1h-2zM1409 572h2v1h-2zM1632 572h1v1h-1zM168 573h1v1h-1zM628 573h2v1h-2zM714 573h1v1h-1zM1134 573h1v1h-1zM1630 573h2v1h-2zM172 574h3v1h-3zM624 574h1v1h-1zM718 574h1v1h-1zM1132 574h2v1h-2zM1626 574h1v1h-1zM622 575h2v1h-2zM719 575h2v1h-2zM1121 575h2v1h-2zM1126 575h3v1h-3zM1414 575h1v1h-1zM1624 575h2v1h-2zM178 576h3v1h-3zM724 576h3v1h-3zM1114 576h3v1h-3zM1120 576h1v1h-1zM1415 576h2v1h-2zM1619 576h2v1h-2zM618 577h1v1h-1zM1618 577h1v1h-1zM184 578h3v1h-3zM616 578h2v1h-2zM730 578h3v1h-3zM1108 578h3v1h-3zM1614 578h1v1h-1zM190 579h1v1h-1zM1103 579h2v1h-2zM1420 579h1v1h-1zM1612 579h2v1h-2zM191 580h2v1h-2zM612 580h1v1h-1zM736 580h3v1h-3zM1097 580h2v1h-2zM1102 580h1v1h-1zM1421 580h2v1h-2zM1606 580h3v1h-3zM196 581h3v1h-3zM610 581h2v1h-2zM742 581h1v1h-1zM1090 581h3v1h-3zM1096 581h1v1h-1zM1600 581h3v1h-3zM743 582h2v1h-2zM796 582h3v1h-3zM802 582h3v1h-3zM808 582h3v1h-3zM814 582h3v1h-3zM1084 582h3v1h-3zM202 583h3v1h-3zM748 583h3v1h-3zM791 583h2v1h-2zM820 583h3v1h-3zM1073 583h2v1h-2zM1078 583h3v1h-3zM1426 583h2v1h-2zM1594 583h3v1h-3zM208 584h2v1h-2zM605 584h2v1h-2zM754 584h3v1h-3zM760 584h1v1h-1zM785 584h2v1h-2zM790 584h1v1h-1zM826 584h3v1h-3zM832 584h1v1h-1zM1066 584h3v1h-3zM1072 584h1v1h-1zM1428 584h1v1h-1zM1588 584h3v1h-3zM210 585h1v1h-1zM214 585h3v1h-3zM604 585h1v1h-1zM761 585h2v1h-2zM766 585h3v1h-3zM772 585h3v1h-3zM778 585h3v1h-3zM784 585h1v1h-1zM833 585h2v1h-2zM1018 585h3v1h-3zM1024 585h3v1h-3zM1030 585h3v1h-3zM1036 585h3v1h-3zM1042 585h3v1h-3zM1048 585h3v1h-3zM1054 585h3v1h-3zM1060 585h3v1h-3zM1577 585h2v1h-2zM1582 585h3v1h-3zM220 586h3v1h-3zM838 586h2v1h-2zM1001 586h2v1h-2zM1006 586h3v1h-3zM1012 586h3v1h-3zM1432 586h2v1h-2zM1570 586h3v1h-3zM1576 586h1v1h-1zM226 587h3v1h-3zM232 587h1v1h-1zM599 587h2v1h-2zM840 587h1v1h-1zM994 587h3v1h-3zM1000 587h1v1h-1zM1434 587h1v1h-1zM1553 587h2v1h-2zM1558 587h3v1h-3zM1564 587h3v1h-3zM233 588h2v1h-2zM238 588h3v1h-3zM244 588h2v1h-2zM598 588h1v1h-1zM844 588h3v1h-3zM988 588h3v1h-3zM1546 588h3v1h-3zM1552 588h1v1h-1zM246 589h1v1h-1zM970 589h3v1h-3zM976 589h3v1h-3zM982 589h3v1h-3zM1438 589h1v1h-1zM1540 589h3v1h-3zM594 590h1v1h-1zM850 590h3v1h-3zM856 590h1v1h-1zM1439 590h2v1h-2zM1530 590h1v1h-1zM1534 590h3v1h-3zM250 591h1v1h-1zM593 591h1v1h-1zM857 591h2v1h-2zM964 591h3v1h-3zM1528 591h2v1h-2zM251 592h2v1h-2zM592 592h1v1h-1zM862 592h2v1h-2zM953 592h2v1h-2zM958 592h3v1h-3zM1444 592h2v1h-2zM1522 592h3v1h-3zM864 593h1v1h-1zM946 593h3v1h-3zM952 593h1v1h-1zM1446 593h1v1h-1zM1516 593h3v1h-3zM256 594h3v1h-3zM587 594h2v1h-2zM868 594h3v1h-3zM929 594h2v1h-2zM934 594h3v1h-3zM940 594h3v1h-3zM1450 594h1v1h-1zM1511 594h2v1h-2zM586 595h1v1h-1zM905 595h2v1h-2zM910 595h3v1h-3zM916 595h3v1h-3zM922 595h3v1h-3zM928 595h1v1h-1zM1451 595h2v1h-2zM1506 595h1v1h-1zM1510 595h1v1h-1zM874 596h3v1h-3zM880 596h3v1h-3zM886 596h3v1h-3zM892 596h3v1h-3zM898 596h3v1h-3zM904 596h1v1h-1zM1504 596h2v1h-2zM262 597h1v1h-1zM582 597h1v1h-1zM1456 597h3v1h-3zM1498 597h3v1h-3zM263 598h1v1h-1zM580 598h2v1h-2zM1462 598h3v1h-3zM264 599h1v1h-1zM1468 599h3v1h-3zM1481 599h2v1h-2zM1486 599h3v1h-3zM1492 599h3v1h-3zM575 600h2v1h-2zM1474 600h3v1h-3zM1480 600h1v1h-1zM574 601h1v1h-1zM268 602h1v1h-1zM269 603h1v1h-1zM570 603h1v1h-1zM270 604h1v1h-1zM568 604h2v1h-2zM274 606h1v1h-1zM563 606h2v1h-2zM275 607h1v1h-1zM562 607h1v1h-1zM276 608h1v1h-1zM558 608h1v1h-1zM556 609h2v1h-2zM551 610h2v1h-2zM550 611h1v1h-1zM280 612h2v1h-2zM544 612h3v1h-3zM282 613h1v1h-1zM538 614h3v1h-3zM532 615h3v1h-3zM526 616h3v1h-3zM286 617h1v1h-1zM520 617h3v1h-3zM287 618h1v1h-1zM288 619h1v1h-1zM515 619h2v1h-2zM514 620h1v1h-1zM510 621h1v1h-1zM508 622h2v1h-2zM292 623h1v1h-1zM293 624h1v1h-1zM294 625h1v1h-1zM503 625h2v1h-2zM502 626h1v1h-1zM298 627h1v1h-1zM299 628h1v1h-1zM498 628h1v1h-1zM300 629h1v1h-1zM401 629h2v1h-2zM406 629h3v1h-3zM412 629h3v1h-3zM496 629h2v1h-2zM394 630h3v1h-3zM400 630h1v1h-1zM304 631h1v1h-1zM418 631h3v1h-3zM491 631h2v1h-2zM305 632h1v1h-1zM388 632h3v1h-3zM490 632h1v1h-1zM306 633h1v1h-1zM384 633h1v1h-1zM424 633h3v1h-3zM382 634h2v1h-2zM430 634h1v1h-1zM486 634h1v1h-1zM431 635h2v1h-2zM484 635h2v1h-2zM310 636h1v1h-1zM376 636h3v1h-3zM436 636h2v1h-2zM311 637h1v1h-1zM438 637h1v1h-1zM479 637h2v1h-2zM312 638h1v1h-1zM371 638h2v1h-2zM478 638h1v1h-1zM370 639h1v1h-1zM442 639h1v1h-1zM474 639h1v1h-1zM366 640h1v1h-1zM443 640h2v1h-2zM448 640h1v1h-1zM472 640h2v1h-2zM316 641h1v1h-1zM364 641h2v1h-2zM449 641h2v1h-2zM454 641h3v1h-3zM466 641h3v1h-3zM317 642h2v1h-2zM460 642h3v1h-3zM359 643h2v1h-2zM358 644h1v1h-1zM322 645h2v1h-2zM324 646h1v1h-1zM328 646h1v1h-1zM352 646h3v1h-3zM329 647h2v1h-2zM334 647h1v1h-1zM335 648h2v1h-2zM346 648h3v1h-3zM340 649h3v1h-3z" fill="#ff0000" shape-rendering="crispEdges"/>
<g shape-rendering="crispEdges">
<line x1="5" y1="710.5" x2="1685" y2="710.5" stroke="#c0c0c0" stroke-width="1" stroke-dasharray="3 3"/>
<line x1="5" y1="764.5" x2="1685" y2="764.5" stroke="#c0c0c0" stroke-width="1" stroke-dasharray="3 3"/>
</g>
<path d="M1226 696h4v1h-4zM1170 697h3v1h-3zM1223 697h3v1h-3zM1230 697h2v1h-2zM1148 698h13v1h-13zM1167 698h3v1h-3zM1173 698h1v1h-1zM1203 698h6v1h-6zM1217 698h6v1h-6zM1232 698h3v1h-3zM1147 699h1v1h-1zM1161 699h6v1h-6zM1174 699h2v1h-2zM1200 699h3v1h-3zM1209 699h8v1h-8zM1235 699h2v1h-2zM1147 700h1v1h-1zM1176 700h1v1h-1zM1198 700h2v1h-2zM1237 700h1v1h-1zM1146 701h1v1h-1zM1177 701h2v1h-2zM1193 701h5v1h-5zM1237 701h1v1h-1zM1146 702h1v1h-1zM1179 702h1v1h-1zM1185 702h8v1h-8zM1238 702h1v1h-1zM1145 703h1v1h-1zM1180 703h5v1h-5zM1239 703h1v1h-1zM1145 704h1v1h-1zM1239 704h1v1h-1zM1644 704h1v1h-1zM1144 705h1v1h-1zM1240 705h1v1h-1zM1331 705h2v1h-2zM1643 705h1v1h-1zM1645 705h1v1h-1zM1144 706h1v1h-1zM1241 706h1v1h-1zM1328 706h3v1h-3zM1333 706h1v1h-1zM1642 706h1v1h-1zM1645 706h1v1h-1zM1143 707h1v1h-1zM1241 707h1v1h-1zM1326 707h2v1h-2zM1333 707h1v1h-1zM1641 707h1v1h-1zM1646 707h1v1h-1zM1143 708h1v1h-1zM1242 708h1v1h-1zM1324 708h2v1h-2zM1334 708h1v1h-1zM1640 708h1v1h-1zM1647 708h1v1h-1zM1142 709h1v1h-1zM1243 709h1v1h-1zM1322 709h2v1h-2zM1334 709h1v1h-1zM1639 709h1v1h-1zM1647 709h1v1h-1zM1142 710h1v1h-1zM1243 710h1v1h-1zM1321 710h1v1h-1zM1335 710h1v1h-1zM1638 710h1v1h-1zM1648 710h1v1h-1zM1141 711h1v1h-1zM1244 711h5v1h-5zM1319 711h2v1h-2zM1335 711h1v1h-1zM1637 711h1v1h-1zM1649 711h1v1h-1zM1141 712h1v1h-1zM1249 712h6v1h-6zM1317 712h2v1h-2zM1336 712h1v1h-1zM1636 712h1v1h-1zM1649 712h1v1h-1zM1140 713h1v1h-1zM1255 713h3v1h-3zM1284 713h1v1h-1zM1313 713h4v1h-4zM1336 713h1v1h-1zM1635 713h1v1h-1zM1650 713h1v1h-1zM1138 714h2v1h-2zM1258 714h3v1h-3zM1283 714h1v1h-1zM1285 714h1v1h-1zM1308 714h5v1h-5zM1337 714h1v1h-1zM1634 714h1v1h-1zM1651 714h1v1h-1zM1137 715h1v1h-1zM1261 715h1v1h-1zM1282 715h1v1h-1zM1286 715h1v1h-1zM1306 715h2v1h-2zM1337 715h1v1h-1zM1604 715h2v1h-2zM1634 715h1v1h-1zM1651 715h1v1h-1zM1135 716h2v1h-2zM1262 716h1v1h-1zM1280 716h2v1h-2zM1287 716h1v1h-1zM1305 716h1v1h-1zM1338 716h1v1h-1zM1603 716h1v1h-1zM1606 716h1v1h-1zM1633 716h1v1h-1zM1652 716h3v1h-3zM1133 717h2v1h-2zM1263 717h1v1h-1zM1279 717h1v1h-1zM1288 717h1v1h-1zM1303 717h2v1h-2zM1338 717h1v1h-1zM1603 717h1v1h-1zM1607 717h3v1h-3zM1632 717h1v1h-1zM1655 717h3v1h-3zM1131 718h2v1h-2zM1264 718h1v1h-1zM1278 718h1v1h-1zM1288 718h1v1h-1zM1301 718h2v1h-2zM1339 718h1v1h-1zM1602 718h1v1h-1zM1610 718h1v1h-1zM1631 718h1v1h-1zM1658 718h11v1h-11zM12 719h2v1h-2zM1130 719h1v1h-1zM1265 719h1v1h-1zM1277 719h1v1h-1zM1289 719h1v1h-1zM1299 719h2v1h-2zM1339 719h1v1h-1zM1602 719h1v1h-1zM1611 719h3v1h-3zM1630 719h1v1h-1zM10 720h2v1h-2zM14 720h1v1h-1zM90 720h3v1h-3zM619 720h3v1h-3zM1127 720h3v1h-3zM1266 720h1v1h-1zM1274 720h3v1h-3zM1290 720h1v1h-1zM1296 720h3v1h-3zM1340 720h1v1h-1zM1601 720h1v1h-1zM1614 720h2v1h-2zM1630 720h1v1h-1zM9 721h1v1h-1zM15 721h3v1h-3zM87 721h3v1h-3zM93 721h1v1h-1zM618 721h1v1h-1zM622 721h1v1h-1zM1126 721h1v1h-1zM1267 721h1v1h-1zM1271 721h3v1h-3zM1291 721h1v1h-1zM1294 721h2v1h-2zM1340 721h1v1h-1zM1600 721h1v1h-1zM1616 721h3v1h-3zM1629 721h1v1h-1zM7 722h2v1h-2zM18 722h1v1h-1zM82 722h5v1h-5zM93 722h1v1h-1zM615 722h3v1h-3zM623 722h3v1h-3zM1121 722h5v1h-5zM1268 722h3v1h-3zM1292 722h2v1h-2zM1341 722h1v1h-1zM1600 722h1v1h-1zM1619 722h10v1h-10zM5 723h2v1h-2zM19 723h4v1h-4zM79 723h3v1h-3zM94 723h1v1h-1zM614 723h1v1h-1zM626 723h1v1h-1zM1113 723h8v1h-8zM1341 723h1v1h-1zM1599 723h1v1h-1zM4 724h1v1h-1zM23 724h3v1h-3zM76 724h3v1h-3zM94 724h1v1h-1zM611 724h3v1h-3zM627 724h4v1h-4zM1105 724h8v1h-8zM1341 724h1v1h-1zM1598 724h1v1h-1zM26 725h5v1h-5zM42 725h11v1h-11zM74 725h2v1h-2zM95 725h1v1h-1zM596 725h2v1h-2zM610 725h1v1h-1zM631 725h3v1h-3zM1100 725h5v1h-5zM1342 725h1v1h-1zM1598 725h1v1h-1zM31 726h3v1h-3zM39 726h3v1h-3zM53 726h2v1h-2zM73 726h1v1h-1zM96 726h1v1h-1zM595 726h1v1h-1zM598 726h2v1h-2zM607 726h3v1h-3zM634 726h3v1h-3zM1099 726h1v1h-1zM1342 726h1v1h-1zM1579 726h3v1h-3zM1597 726h1v1h-1zM34 727h5v1h-5zM55 727h2v1h-2zM71 727h2v1h-2zM96 727h1v1h-1zM595 727h1v1h-1zM600 727h3v1h-3zM606 727h1v1h-1zM637 727h1v1h-1zM1097 727h2v1h-2zM1342 727h1v1h-1zM1578 727h1v1h-1zM1582 727h2v1h-2zM1597 727h1v1h-1zM57 728h1v1h-1zM69 728h2v1h-2zM97 728h1v1h-1zM548 728h5v1h-5zM594 728h1v1h-1zM603 728h3v1h-3zM637 728h1v1h-1zM1096 728h1v1h-1zM1343 728h1v1h-1zM1575 728h3v1h-3zM1584 728h3v1h-3zM1593 728h4v1h-4zM58 729h2v1h-2zM65 729h4v1h-4zM98 729h1v1h-1zM547 729h1v1h-1zM553 729h8v1h-8zM593 729h1v1h-1zM638 729h1v1h-1zM756 729h18v1h-18zM1094 729h2v1h-2zM1343 729h1v1h-1zM1574 729h1v1h-1zM1587 729h6v1h-6zM60 730h5v1h-5zM98 730h1v1h-1zM546 730h1v1h-1zM561 730h12v1h-12zM593 730h1v1h-1zM638 730h1v1h-1zM755 730h1v1h-1zM774 730h1v1h-1zM1044 730h1v1h-1zM1093 730h1v1h-1zM1343 730h1v1h-1zM1571 730h3v1h-3zM99 731h1v1h-1zM544 731h2v1h-2zM573 731h1v1h-1zM592 731h1v1h-1zM639 731h1v1h-1zM755 731h1v1h-1zM775 731h3v1h-3zM1044 731h3v1h-3zM1075 731h4v1h-4zM1090 731h3v1h-3zM1344 731h1v1h-1zM1570 731h1v1h-1zM99 732h1v1h-1zM543 732h1v1h-1zM574 732h1v1h-1zM591 732h1v1h-1zM639 732h1v1h-1zM754 732h1v1h-1zM778 732h1v1h-1zM1043 732h1v1h-1zM1047 732h2v1h-2zM1072 732h3v1h-3zM1079 732h3v1h-3zM1087 732h3v1h-3zM1344 732h1v1h-1zM1567 732h3v1h-3zM100 733h1v1h-1zM542 733h1v1h-1zM574 733h1v1h-1zM591 733h1v1h-1zM640 733h1v1h-1zM754 733h1v1h-1zM779 733h4v1h-4zM1043 733h1v1h-1zM1049 733h1v1h-1zM1070 733h2v1h-2zM1082 733h5v1h-5zM1344 733h1v1h-1zM1566 733h1v1h-1zM101 734h1v1h-1zM541 734h1v1h-1zM575 734h1v1h-1zM590 734h1v1h-1zM641 734h1v1h-1zM753 734h1v1h-1zM783 734h3v1h-3zM1042 734h1v1h-1zM1050 734h2v1h-2zM1065 734h5v1h-5zM1345 734h1v1h-1zM1500 734h10v1h-10zM1562 734h4v1h-4zM101 735h1v1h-1zM116 735h3v1h-3zM457 735h8v1h-8zM539 735h2v1h-2zM576 735h1v1h-1zM589 735h1v1h-1zM641 735h1v1h-1zM676 735h3v1h-3zM753 735h1v1h-1zM786 735h3v1h-3zM1042 735h1v1h-1zM1052 735h13v1h-13zM1345 735h1v1h-1zM1499 735h1v1h-1zM1510 735h1v1h-1zM1559 735h3v1h-3zM102 736h1v1h-1zM115 736h1v1h-1zM119 736h3v1h-3zM188 736h1v1h-1zM452 736h5v1h-5zM465 736h4v1h-4zM538 736h1v1h-1zM577 736h1v1h-1zM589 736h1v1h-1zM642 736h1v1h-1zM674 736h2v1h-2zM679 736h3v1h-3zM698 736h3v1h-3zM732 736h1v1h-1zM752 736h1v1h-1zM789 736h1v1h-1zM954 736h15v1h-15zM1042 736h1v1h-1zM1345 736h1v1h-1zM1497 736h2v1h-2zM1511 736h3v1h-3zM1553 736h6v1h-6zM103 737h1v1h-1zM114 737h1v1h-1zM122 737h3v1h-3zM187 737h1v1h-1zM189 737h1v1h-1zM452 737h1v1h-1zM469 737h2v1h-2zM535 737h3v1h-3zM578 737h1v1h-1zM587 737h2v1h-2zM642 737h1v1h-1zM673 737h1v1h-1zM682 737h7v1h-7zM695 737h3v1h-3zM701 737h1v1h-1zM731 737h1v1h-1zM733 737h1v1h-1zM751 737h1v1h-1zM790 737h1v1h-1zM891 737h2v1h-2zM951 737h3v1h-3zM969 737h4v1h-4zM1041 737h1v1h-1zM1346 737h1v1h-1zM1496 737h1v1h-1zM1514 737h1v1h-1zM1548 737h5v1h-5zM104 738h1v1h-1zM113 738h1v1h-1zM125 738h1v1h-1zM186 738h1v1h-1zM189 738h1v1h-1zM451 738h1v1h-1zM471 738h2v1h-2zM483 738h2v1h-2zM534 738h1v1h-1zM578 738h1v1h-1zM584 738h3v1h-3zM643 738h1v1h-1zM650 738h5v1h-5zM671 738h2v1h-2zM689 738h6v1h-6zM701 738h1v1h-1zM731 738h1v1h-1zM733 738h1v1h-1zM751 738h1v1h-1zM791 738h1v1h-1zM890 738h1v1h-1zM892 738h1v1h-1zM908 738h18v1h-18zM945 738h6v1h-6zM973 738h2v1h-2zM1019 738h3v1h-3zM1041 738h1v1h-1zM1346 738h1v1h-1zM1494 738h2v1h-2zM1515 738h10v1h-10zM1547 738h1v1h-1zM104 739h1v1h-1zM112 739h1v1h-1zM126 739h2v1h-2zM184 739h2v1h-2zM190 739h1v1h-1zM451 739h1v1h-1zM473 739h1v1h-1zM480 739h3v1h-3zM485 739h1v1h-1zM532 739h2v1h-2zM579 739h1v1h-1zM582 739h2v1h-2zM643 739h1v1h-1zM647 739h3v1h-3zM655 739h3v1h-3zM669 739h2v1h-2zM702 739h1v1h-1zM730 739h1v1h-1zM734 739h1v1h-1zM750 739h1v1h-1zM792 739h1v1h-1zM851 739h2v1h-2zM887 739h3v1h-3zM893 739h1v1h-1zM907 739h1v1h-1zM926 739h1v1h-1zM939 739h6v1h-6zM975 739h2v1h-2zM987 739h6v1h-6zM1016 739h3v1h-3zM1022 739h2v1h-2zM1040 739h1v1h-1zM1346 739h1v1h-1zM1474 739h4v1h-4zM1493 739h1v1h-1zM1525 739h1v1h-1zM1547 739h1v1h-1zM105 740h1v1h-1zM112 740h1v1h-1zM128 740h1v1h-1zM139 740h2v1h-2zM171 740h3v1h-3zM183 740h1v1h-1zM191 740h1v1h-1zM450 740h1v1h-1zM474 740h2v1h-2zM478 740h2v1h-2zM486 740h1v1h-1zM530 740h2v1h-2zM580 740h2v1h-2zM644 740h3v1h-3zM658 740h11v1h-11zM702 740h1v1h-1zM730 740h1v1h-1zM735 740h1v1h-1zM750 740h1v1h-1zM792 740h1v1h-1zM836 740h2v1h-2zM850 740h1v1h-1zM853 740h2v1h-2zM886 740h1v1h-1zM894 740h1v1h-1zM907 740h1v1h-1zM927 740h3v1h-3zM936 740h3v1h-3zM977 740h1v1h-1zM984 740h3v1h-3zM993 740h6v1h-6zM1014 740h2v1h-2zM1024 740h3v1h-3zM1040 740h1v1h-1zM1347 740h1v1h-1zM1459 740h6v1h-6zM1471 740h3v1h-3zM1478 740h2v1h-2zM1490 740h3v1h-3zM1526 740h1v1h-1zM1546 740h1v1h-1zM106 741h1v1h-1zM111 741h1v1h-1zM129 741h2v1h-2zM136 741h3v1h-3zM141 741h1v1h-1zM170 741h1v1h-1zM174 741h2v1h-2zM182 741h1v1h-1zM192 741h1v1h-1zM450 741h1v1h-1zM476 741h2v1h-2zM486 741h1v1h-1zM529 741h1v1h-1zM703 741h1v1h-1zM729 741h1v1h-1zM735 741h1v1h-1zM749 741h1v1h-1zM793 741h1v1h-1zM835 741h1v1h-1zM838 741h2v1h-2zM847 741h3v1h-3zM855 741h2v1h-2zM881 741h5v1h-5zM894 741h1v1h-1zM906 741h1v1h-1zM930 741h1v1h-1zM934 741h2v1h-2zM978 741h2v1h-2zM982 741h2v1h-2zM999 741h3v1h-3zM1009 741h5v1h-5zM1027 741h2v1h-2zM1040 741h1v1h-1zM1347 741h1v1h-1zM1355 741h3v1h-3zM1380 741h1v1h-1zM1458 741h1v1h-1zM1465 741h6v1h-6zM1480 741h3v1h-3zM1487 741h3v1h-3zM1527 741h1v1h-1zM1546 741h1v1h-1zM107 742h1v1h-1zM110 742h1v1h-1zM131 742h1v1h-1zM134 742h2v1h-2zM142 742h1v1h-1zM167 742h3v1h-3zM176 742h3v1h-3zM181 742h1v1h-1zM192 742h1v1h-1zM212 742h9v1h-9zM449 742h1v1h-1zM487 742h1v1h-1zM527 742h2v1h-2zM703 742h1v1h-1zM728 742h1v1h-1zM736 742h1v1h-1zM749 742h1v1h-1zM794 742h1v1h-1zM833 742h2v1h-2zM840 742h3v1h-3zM846 742h1v1h-1zM857 742h1v1h-1zM875 742h6v1h-6zM894 742h1v1h-1zM906 742h1v1h-1zM931 742h3v1h-3zM980 742h2v1h-2zM1002 742h7v1h-7zM1029 742h1v1h-1zM1039 742h1v1h-1zM1347 742h1v1h-1zM1352 742h3v1h-3zM1358 742h1v1h-1zM1379 742h1v1h-1zM1381 742h1v1h-1zM1455 742h3v1h-3zM1483 742h4v1h-4zM1528 742h1v1h-1zM1545 742h1v1h-1zM107 743h1v1h-1zM109 743h1v1h-1zM132 743h2v1h-2zM143 743h1v1h-1zM166 743h1v1h-1zM179 743h2v1h-2zM193 743h1v1h-1zM211 743h1v1h-1zM221 743h1v1h-1zM449 743h1v1h-1zM488 743h1v1h-1zM525 743h2v1h-2zM704 743h1v1h-1zM728 743h1v1h-1zM737 743h1v1h-1zM748 743h1v1h-1zM795 743h1v1h-1zM832 743h1v1h-1zM843 743h3v1h-3zM858 743h2v1h-2zM874 743h1v1h-1zM895 743h1v1h-1zM905 743h1v1h-1zM1030 743h1v1h-1zM1039 743h1v1h-1zM1348 743h1v1h-1zM1350 743h2v1h-2zM1359 743h3v1h-3zM1377 743h2v1h-2zM1381 743h1v1h-1zM1454 743h1v1h-1zM1529 743h1v1h-1zM1545 743h1v1h-1zM108 744h1v1h-1zM144 744h2v1h-2zM162 744h4v1h-4zM194 744h1v1h-1zM210 744h1v1h-1zM222 744h2v1h-2zM449 744h1v1h-1zM489 744h1v1h-1zM524 744h1v1h-1zM704 744h1v1h-1zM727 744h1v1h-1zM737 744h1v1h-1zM746 744h2v1h-2zM796 744h1v1h-1zM830 744h2v1h-2zM860 744h3v1h-3zM871 744h3v1h-3zM896 744h1v1h-1zM905 744h1v1h-1zM1031 744h1v1h-1zM1038 744h1v1h-1zM1348 744h2v1h-2zM1362 744h1v1h-1zM1376 744h1v1h-1zM1382 744h1v1h-1zM1451 744h3v1h-3zM1530 744h1v1h-1zM1544 744h1v1h-1zM146 745h1v1h-1zM159 745h3v1h-3zM195 745h1v1h-1zM209 745h1v1h-1zM224 745h1v1h-1zM348 745h5v1h-5zM448 745h1v1h-1zM490 745h1v1h-1zM522 745h2v1h-2zM705 745h1v1h-1zM726 745h1v1h-1zM738 745h1v1h-1zM745 745h1v1h-1zM797 745h1v1h-1zM829 745h1v1h-1zM863 745h3v1h-3zM870 745h1v1h-1zM896 745h1v1h-1zM904 745h1v1h-1zM1032 745h1v1h-1zM1038 745h1v1h-1zM1363 745h4v1h-4zM1374 745h2v1h-2zM1383 745h1v1h-1zM1448 745h3v1h-3zM1531 745h1v1h-1zM1544 745h1v1h-1zM147 746h1v1h-1zM153 746h6v1h-6zM195 746h1v1h-1zM208 746h1v1h-1zM225 746h2v1h-2zM347 746h1v1h-1zM353 746h6v1h-6zM448 746h1v1h-1zM490 746h1v1h-1zM521 746h1v1h-1zM705 746h1v1h-1zM726 746h1v1h-1zM739 746h1v1h-1zM743 746h2v1h-2zM798 746h2v1h-2zM827 746h2v1h-2zM866 746h4v1h-4zM896 746h1v1h-1zM904 746h1v1h-1zM1032 746h1v1h-1zM1038 746h1v1h-1zM1367 746h3v1h-3zM1373 746h1v1h-1zM1383 746h1v1h-1zM1446 746h2v1h-2zM1532 746h1v1h-1zM1543 746h1v1h-1zM148 747h5v1h-5zM196 747h2v1h-2zM207 747h1v1h-1zM227 747h1v1h-1zM347 747h1v1h-1zM359 747h3v1h-3zM369 747h5v1h-5zM447 747h1v1h-1zM491 747h1v1h-1zM519 747h2v1h-2zM706 747h1v1h-1zM725 747h1v1h-1zM739 747h1v1h-1zM741 747h2v1h-2zM800 747h1v1h-1zM826 747h1v1h-1zM897 747h1v1h-1zM903 747h1v1h-1zM1033 747h1v1h-1zM1037 747h1v1h-1zM1370 747h3v1h-3zM1384 747h1v1h-1zM1444 747h2v1h-2zM1533 747h1v1h-1zM1543 747h1v1h-1zM198 748h2v1h-2zM206 748h1v1h-1zM228 748h2v1h-2zM243 748h2v1h-2zM346 748h1v1h-1zM362 748h7v1h-7zM374 748h2v1h-2zM447 748h1v1h-1zM492 748h1v1h-1zM517 748h2v1h-2zM706 748h1v1h-1zM715 748h6v1h-6zM725 748h1v1h-1zM740 748h1v1h-1zM801 748h2v1h-2zM823 748h3v1h-3zM898 748h1v1h-1zM903 748h1v1h-1zM1034 748h1v1h-1zM1037 748h1v1h-1zM1385 748h1v1h-1zM1443 748h1v1h-1zM1534 748h2v1h-2zM1542 748h1v1h-1zM200 749h3v1h-3zM205 749h1v1h-1zM230 749h2v1h-2zM240 749h3v1h-3zM244 749h1v1h-1zM345 749h1v1h-1zM376 749h3v1h-3zM447 749h1v1h-1zM493 749h1v1h-1zM515 749h2v1h-2zM707 749h1v1h-1zM712 749h3v1h-3zM721 749h4v1h-4zM803 749h1v1h-1zM822 749h1v1h-1zM898 749h1v1h-1zM902 749h1v1h-1zM1035 749h2v1h-2zM1385 749h1v1h-1zM1442 749h1v1h-1zM1536 749h1v1h-1zM1542 749h1v1h-1zM203 750h2v1h-2zM232 750h3v1h-3zM238 750h2v1h-2zM245 750h1v1h-1zM345 750h1v1h-1zM379 750h6v1h-6zM446 750h1v1h-1zM494 750h1v1h-1zM512 750h3v1h-3zM707 750h1v1h-1zM710 750h2v1h-2zM804 750h2v1h-2zM819 750h3v1h-3zM898 750h1v1h-1zM902 750h1v1h-1zM1036 750h1v1h-1zM1386 750h1v1h-1zM1395 750h2v1h-2zM1441 750h1v1h-1zM1537 750h2v1h-2zM1541 750h1v1h-1zM235 751h3v1h-3zM245 751h1v1h-1zM308 751h9v1h-9zM344 751h1v1h-1zM385 751h4v1h-4zM446 751h1v1h-1zM495 751h1v1h-1zM510 751h2v1h-2zM708 751h2v1h-2zM806 751h2v1h-2zM816 751h3v1h-3zM899 751h1v1h-1zM901 751h1v1h-1zM1387 751h1v1h-1zM1392 751h3v1h-3zM1397 751h1v1h-1zM1440 751h1v1h-1zM1539 751h1v1h-1zM1541 751h1v1h-1zM246 752h1v1h-1zM307 752h1v1h-1zM317 752h2v1h-2zM343 752h1v1h-1zM389 752h1v1h-1zM445 752h1v1h-1zM496 752h1v1h-1zM508 752h2v1h-2zM808 752h3v1h-3zM814 752h2v1h-2zM900 752h2v1h-2zM1387 752h1v1h-1zM1390 752h2v1h-2zM1398 752h1v1h-1zM1439 752h1v1h-1zM1540 752h1v1h-1zM246 753h1v1h-1zM307 753h1v1h-1zM319 753h2v1h-2zM331 753h3v1h-3zM343 753h1v1h-1zM389 753h1v1h-1zM445 753h1v1h-1zM496 753h1v1h-1zM506 753h2v1h-2zM811 753h3v1h-3zM900 753h1v1h-1zM1388 753h2v1h-2zM1399 753h1v1h-1zM1438 753h1v1h-1zM247 754h1v1h-1zM306 754h1v1h-1zM321 754h1v1h-1zM328 754h3v1h-3zM334 754h1v1h-1zM342 754h1v1h-1zM390 754h1v1h-1zM444 754h1v1h-1zM497 754h1v1h-1zM505 754h1v1h-1zM1400 754h1v1h-1zM1437 754h1v1h-1zM247 755h1v1h-1zM305 755h1v1h-1zM322 755h2v1h-2zM326 755h2v1h-2zM335 755h3v1h-3zM341 755h1v1h-1zM390 755h1v1h-1zM443 755h2v1h-2zM498 755h1v1h-1zM503 755h2v1h-2zM1401 755h1v1h-1zM1436 755h1v1h-1zM248 756h1v1h-1zM304 756h1v1h-1zM324 756h2v1h-2zM338 756h1v1h-1zM341 756h1v1h-1zM391 756h1v1h-1zM440 756h3v1h-3zM499 756h1v1h-1zM501 756h2v1h-2zM1402 756h1v1h-1zM1410 756h7v1h-7zM1434 756h2v1h-2zM248 757h1v1h-1zM304 757h1v1h-1zM339 757h2v1h-2zM391 757h1v1h-1zM438 757h2v1h-2zM500 757h1v1h-1zM1403 757h1v1h-1zM1407 757h3v1h-3zM1417 757h5v1h-5zM1433 757h1v1h-1zM248 758h1v1h-1zM303 758h1v1h-1zM392 758h1v1h-1zM436 758h2v1h-2zM1404 758h3v1h-3zM1422 758h2v1h-2zM1431 758h2v1h-2zM249 759h1v1h-1zM302 759h1v1h-1zM393 759h1v1h-1zM435 759h1v1h-1zM1424 759h3v1h-3zM1429 759h2v1h-2zM249 760h1v1h-1zM301 760h1v1h-1zM393 760h1v1h-1zM435 760h1v1h-1zM1427 760h2v1h-2zM250 761h1v1h-1zM301 761h1v1h-1zM394 761h1v1h-1zM434 761h1v1h-1zM250 762h1v1h-1zM300 762h1v1h-1zM394 762h1v1h-1zM433 762h1v1h-1zM251 763h1v1h-1zM299 763h1v1h-1zM395 763h1v1h-1zM433 763h1v1h-1zM251 764h1v1h-1zM299 764h1v1h-1zM395 764h1v1h-1zM432 764h1v1h-1zM252 765h1v1h-1zM298 765h1v1h-1zM396 765h2v1h-2zM431 765h1v1h-1zM252 766h1v1h-1zM297 766h1v1h-1zM398 766h2v1h-2zM431 766h1v1h-1zM253 767h1v1h-1zM297 767h1v1h-1zM400 767h3v1h-3zM430 767h1v1h-1zM253 768h1v1h-1zM296 768h1v1h-1zM403 768h2v1h-2zM429 768h1v1h-1zM254 769h1v1h-1zM295 769h1v1h-1zM405 769h1v1h-1zM429 769h1v1h-1zM255 770h1v1h-1zM295 770h1v1h-1zM406 770h2v1h-2zM427 770h2v1h-2zM256 771h1v1h-1zM294 771h1v1h-1zM408 771h1v1h-1zM424 771h3v1h-3zM256 772h1v1h-1zM293 772h1v1h-1zM409 772h2v1h-2zM422 772h2v1h-2zM257 773h1v1h-1zM276 773h5v1h-5zM293 773h1v1h-1zM411 773h1v1h-1zM417 773h5v1h-5zM258 774h1v1h-1zM274 774h2v1h-2zM281 774h12v1h-12zM412 774h5v1h-5zM259 775h1v1h-1zM273 775h1v1h-1zM259 776h1v1h-1zM271 776h2v1h-2zM260 777h5v1h-5zM269 777h2v1h-2zM265 778h4v1h-4z" fill="#1e90ff" shape-rendering="crispEdges"/>
<g shape-rendering="crispEdges" fill="none" stroke="#000" stroke-width="1">
<rect x="3.5" y="1.5" width="1682" height="510"/>
<rect x="3.5" y="513.5" width="1682" height="152"/>
<rect x="3.5" y="667.5" width="1682" height="139"/>
</g>
<g shape-rendering="crispEdges">
<rect x="1686" y="13" width="2" height="1" fill="#000"/>
<rect x="1686" y="46" width="2" height="1" fill="#000"/>
<rect x="1686" y="79" width="2" height="1" fill="#000"/>
<rect x="1686" y="112" width="2" height="1" fill="#000"/>
<rect x="1686" y="145" width="2" height="1" fill="#000"/>
<rect x="1686" y="178" width="2" height="1" fill="#000"/>
<rect x="1686" y="211" width="2" height="1" fill="#000"/>
<rect x="1686" y="244" width="2" height="1" fill="#000"/>
<rect x="1686" y="277" width="2" height="1" fill="#000"/>
<rect x="1686" y="310" width="2" height="1" fill="#000"/>
<rect x="1686" y="343" width="2" height="1" fill="#000"/>
<rect x="1686" y="376" width="2" height="1" fill="#000"/>
<rect x="1686" y="409" width="2" height="1" fill="#000"/>
<rect x="1686" y="442" width="2" height="1" fill="#000"/>
<rect x="1686" y="475" width="2" height="1" fill="#000"/>
<rect x="1686" y="508" width="2" height="1" fill="#000"/>
<rect x="1686" y="515" width="1" height="1" fill="#000"/>
<rect x="1686" y="579" width="1" height="1" fill="#000"/>
<rect x="1686" y="664" width="1" height="1" fill="#000"/>
<rect x="1686" y="669" width="1" height="1" fill="#000"/>
<rect x="1686" y="805" width="1" height="1" fill="#000"/>
<rect x="1685" y="710" width="1" height="1" fill="#fff"/>
<rect x="1685" y="764" width="1" height="1" fill="#fff"/>
<rect x="4" y="807" width="1" height="3" fill="#000"/>
<rect x="68" y="807" width="1" height="3" fill="#000"/>
<rect x="132" y="807" width="1" height="3" fill="#000"/>
<rect x="196" y="807" width="1" height="3" fill="#000"/>
<rect x="260" y="807" width="1" height="3" fill="#000"/>
<rect x="324" y="807" width="1" height="3" fill="#000"/>
<rect x="388" y="807" width="1" height="3" fill="#000"/>
<rect x="452" y="807" width="1" height="3" fill="#000"/>
<rect x="516" y="807" width="1" height="3" fill="#000"/>
<rect x="580" y="807" width="1" height="3" fill="#000"/>
<rect x="644" y="807" width="1" height="3" fill="#000"/>
<rect x="708" y="807" width="1" height="3" fill="#000"/>
<rect x="772" y="807" width="1" height="3" fill="#000"/>
<rect x="836" y="807" width="1" height="3" fill="#000"/>
<rect x="900" y="807" width="1" height="3" fill="#000"/>
<rect x="964" y="807" width="1" height="3" fill="#000"/>
<rect x="1028" y="807" width="1" height="3" fill="#000"/>
<rect x="1092" y="807" width="1" height="3" fill="#000"/>
<rect x="1156" y="807" width="1" height="3" fill="#000"/>
<rect x="1220" y="807" width="1" height="3" fill="#000"/>
<rect x="1284" y="807" width="1" height="3" fill="#000"/>
<rect x="1348" y="807" width="1" height="3" fill="#000"/>
<rect x="1412" y="807" width="1" height="3" fill="#000"/>
<rect x="1476" y="807" width="1" height="3" fill="#000"/>
<rect x="1540" y="807" width="1" height="3" fill="#000"/>
<rect x="1604" y="807" width="1" height="3" fill="#000"/>
<rect x="1668" y="807" width="1" height="3" fill="#000"/>
</g>
<text transform="translate(1690.5,17) scale(0.963,1)" font-size="9.6" fill="#000" stroke="#000" stroke-width="0.18">66.640</text>
<text transform="translate(1690.5,50) scale(0.963,1)" font-size="9.6" fill="#000" stroke="#000" stroke-width="0.18">65.995</text>
<text transform="translate(1690.5,83) scale(0.963,1)" font-size="9.6" fill="#000" stroke="#000" stroke-width="0.18">65.365</text>
<text transform="translate(1690.5,116) scale(0.963,1)" font-size="9.6" fill="#000" stroke="#000" stroke-width="0.18">64.720</text>
<text transform="translate(1690.5,149) scale(0.963,1)" font-size="9.6" fill="#000" stroke="#000" stroke-width="0.18">64.075</text>
<text transform="translate(1690.5,182) scale(0.963,1)" font-size="9.6" fill="#000" stroke="#000" stroke-width="0.18">63.445</text>
<text transform="translate(1690.5,215) scale(0.963,1)" font-size="9.6" fill="#000" stroke="#000" stroke-width="0.18">62.800</text>
<text transform="translate(1690.5,248) scale(0.963,1)" font-size="9.6" fill="#000" stroke="#000" stroke-width="0.18">62.170</text>
<text transform="translate(1690.5,281) scale(0.963,1)" font-size="9.6" fill="#000" stroke="#000" stroke-width="0.18">61.525</text>
<text transform="translate(1690.5,314) scale(0.963,1)" font-size="9.6" fill="#000" stroke="#000" stroke-width="0.18">60.895</text>
<text transform="translate(1690.5,347) scale(0.963,1)" font-size="9.6" fill="#000" stroke="#000" stroke-width="0.18">60.250</text>
<text transform="translate(1690.5,380) scale(0.963,1)" font-size="9.6" fill="#000" stroke="#000" stroke-width="0.18">59.605</text>
<text transform="translate(1690.5,413) scale(0.963,1)" font-size="9.6" fill="#000" stroke="#000" stroke-width="0.18">58.975</text>
<text transform="translate(1690.5,446) scale(0.963,1)" font-size="9.6" fill="#000" stroke="#000" stroke-width="0.18">58.330</text>
<text transform="translate(1690.5,479) scale(0.963,1)" font-size="9.6" fill="#000" stroke="#000" stroke-width="0.18">57.700</text>
<text transform="translate(1690.5,512) scale(0.963,1)" font-size="9.6" fill="#000" stroke="#000" stroke-width="0.18">57.055</text>
<text transform="translate(1689,524) scale(0.963,1)" font-size="9.6" fill="#000" stroke="#000" stroke-width="0.18">1.0866</text>
<text transform="translate(1689,583) scale(0.963,1)" font-size="9.6" fill="#000" stroke="#000" stroke-width="0.18">0.00</text>
<text transform="translate(1689,662) scale(0.963,1)" font-size="9.6" fill="#000" stroke="#000" stroke-width="0.18">-1.4328</text>
<text transform="translate(1689,678) scale(0.963,1)" font-size="9.6" fill="#000" stroke="#000" stroke-width="0.18">100</text>
<text transform="translate(1689,714.2) scale(0.963,1)" font-size="9.6" fill="#000" stroke="#000" stroke-width="0.18">70</text>
<text transform="translate(1689,768.2) scale(0.963,1)" font-size="9.6" fill="#000" stroke="#000" stroke-width="0.18">30</text>
<text transform="translate(1689,803) scale(0.963,1)" font-size="9.6" fill="#000" stroke="#000" stroke-width="0.18">0</text>
<g shape-rendering="crispEdges">
<rect x="1687" y="117" width="36" height="11" fill="#ff0000"/>
<rect x="1687" y="159" width="36" height="11" fill="#000"/>
<rect x="1687" y="247" width="36" height="11" fill="#32cd32"/>
<rect x="1687" y="324" width="36" height="11" fill="#4169e1"/>
<rect x="1687" y="427" width="36" height="11" fill="#4169e1"/>
</g>
<text transform="translate(1690.5,126.1) scale(0.963,1)" font-size="9.6" fill="#fff" stroke="#fff" stroke-width="0.18">64.500</text>
<text transform="translate(1690.5,168.1) scale(0.963,1)" font-size="9.6" fill="#fff" stroke="#fff" stroke-width="0.18">63.720</text>
<text transform="translate(1690.5,256.1) scale(0.963,1)" font-size="9.6" fill="#fff" stroke="#fff" stroke-width="0.18">62.000</text>
<text transform="translate(1690.5,333.1) scale(0.963,1)" font-size="9.6" fill="#fff" stroke="#fff" stroke-width="0.18">60.500</text>
<text transform="translate(1690.5,436.1) scale(0.963,1)" font-size="9.6" fill="#fff" stroke="#fff" stroke-width="0.18">58.500</text>
<text transform="translate(3.3,819.3) scale(0.95,1)" font-size="9.6" fill="#000" stroke="#000" stroke-width="0.18" textLength="54.7" lengthAdjust="spacingAndGlyphs">11 Mar 2021</text>
<text transform="translate(67.3,819.3) scale(0.95,1)" font-size="9.6" fill="#000" stroke="#000" stroke-width="0.18" textLength="58.1" lengthAdjust="spacingAndGlyphs">12 Mar 20:00</text>
<text transform="translate(131.3,819.3) scale(0.95,1)" font-size="9.6" fill="#000" stroke="#000" stroke-width="0.18" textLength="58.1" lengthAdjust="spacingAndGlyphs">16 Mar 00:00</text>
<text transform="translate(195.3,819.3) scale(0.95,1)" font-size="9.6" fill="#000" stroke="#000" stroke-width="0.18" textLength="58.1" lengthAdjust="spacingAndGlyphs">17 Mar 08:00</text>
<text transform="translate(259.3,819.3) scale(0.95,1)" font-size="9.6" fill="#000" stroke="#000" stroke-width="0.18" textLength="58.1" lengthAdjust="spacingAndGlyphs">18 Mar 16:00</text>
<text transform="translate(323.3,819.3) scale(0.95,1)" font-size="9.6" fill="#000" stroke="#000" stroke-width="0.18" textLength="58.1" lengthAdjust="spacingAndGlyphs">21 Mar 23:00</text>
<text transform="translate(387.3,819.3) scale(0.95,1)" font-size="9.6" fill="#000" stroke="#000" stroke-width="0.18" textLength="58.1" lengthAdjust="spacingAndGlyphs">23 Mar 04:00</text>
<text transform="translate(451.3,819.3) scale(0.95,1)" font-size="9.6" fill="#000" stroke="#000" stroke-width="0.18" textLength="58.1" lengthAdjust="spacingAndGlyphs">24 Mar 12:00</text>
<text transform="translate(515.3,819.3) scale(0.95,1)" font-size="9.6" fill="#000" stroke="#000" stroke-width="0.18" textLength="58.1" lengthAdjust="spacingAndGlyphs">25 Mar 20:00</text>
<text transform="translate(579.3,819.3) scale(0.95,1)" font-size="9.6" fill="#000" stroke="#000" stroke-width="0.18" textLength="58.1" lengthAdjust="spacingAndGlyphs">29 Mar 00:00</text>
<text transform="translate(643.3,819.3) scale(0.95,1)" font-size="9.6" fill="#000" stroke="#000" stroke-width="0.18" textLength="58.1" lengthAdjust="spacingAndGlyphs">30 Mar 08:00</text>
<text transform="translate(707.3,819.3) scale(0.95,1)" font-size="9.6" fill="#000" stroke="#000" stroke-width="0.18" textLength="58.1" lengthAdjust="spacingAndGlyphs">31 Mar 16:00</text>
<text transform="translate(771.3,819.3) scale(0.95,1)" font-size="9.6" fill="#000" stroke="#000" stroke-width="0.18" textLength="51.6" lengthAdjust="spacingAndGlyphs">4 Apr 23:00</text>
<text transform="translate(835.3,819.3) scale(0.95,1)" font-size="9.6" fill="#000" stroke="#000" stroke-width="0.18" textLength="51.6" lengthAdjust="spacingAndGlyphs">6 Apr 04:00</text>
<text transform="translate(899.3,819.3) scale(0.95,1)" font-size="9.6" fill="#000" stroke="#000" stroke-width="0.18" textLength="51.6" lengthAdjust="spacingAndGlyphs">7 Apr 12:00</text>
<text transform="translate(963.3,819.3) scale(0.95,1)" font-size="9.6" fill="#000" stroke="#000" stroke-width="0.18" textLength="51.6" lengthAdjust="spacingAndGlyphs">8 Apr 20:00</text>
<text transform="translate(1027.3,819.3) scale(0.95,1)" font-size="9.6" fill="#000" stroke="#000" stroke-width="0.18" textLength="57.1" lengthAdjust="spacingAndGlyphs">12 Apr 00:00</text>
<text transform="translate(1091.3,819.3) scale(0.95,1)" font-size="9.6" fill="#000" stroke="#000" stroke-width="0.18" textLength="57.1" lengthAdjust="spacingAndGlyphs">13 Apr 08:00</text>
<text transform="translate(1155.3,819.3) scale(0.95,1)" font-size="9.6" fill="#000" stroke="#000" stroke-width="0.18" textLength="57.1" lengthAdjust="spacingAndGlyphs">14 Apr 16:00</text>
<text transform="translate(1219.3,819.3) scale(0.95,1)" font-size="9.6" fill="#000" stroke="#000" stroke-width="0.18" textLength="57.1" lengthAdjust="spacingAndGlyphs">16 Apr 00:00</text>
<text transform="translate(1283.3,819.3) scale(0.95,1)" font-size="9.6" fill="#000" stroke="#000" stroke-width="0.18" textLength="57.1" lengthAdjust="spacingAndGlyphs">19 Apr 04:00</text>
<text transform="translate(1347.3,819.3) scale(0.95,1)" font-size="9.6" fill="#000" stroke="#000" stroke-width="0.18" textLength="57.1" lengthAdjust="spacingAndGlyphs">20 Apr 12:00</text>
<text transform="translate(1411.3,819.3) scale(0.95,1)" font-size="9.6" fill="#000" stroke="#000" stroke-width="0.18" textLength="57.1" lengthAdjust="spacingAndGlyphs">21 Apr 20:00</text>
<text transform="translate(1475.3,819.3) scale(0.95,1)" font-size="9.6" fill="#000" stroke="#000" stroke-width="0.18" textLength="57.1" lengthAdjust="spacingAndGlyphs">23 Apr 04:00</text>
<text transform="translate(1539.3,819.3) scale(0.95,1)" font-size="9.6" fill="#000" stroke="#000" stroke-width="0.18" textLength="57.1" lengthAdjust="spacingAndGlyphs">26 Apr 08:00</text>
<text transform="translate(1603.3,819.3) scale(0.95,1)" font-size="9.6" fill="#000" stroke="#000" stroke-width="0.18" textLength="57.1" lengthAdjust="spacingAndGlyphs">27 Apr 16:00</text>
<text transform="translate(1667.3,819.3) scale(0.95,1)" font-size="9.6" fill="#000" stroke="#000" stroke-width="0.18" textLength="57.1" lengthAdjust="spacingAndGlyphs">28 Apr 22:00</text>
<path d="M7 8.5 L14 8.5 L10.5 12.5 Z" fill="#000"/>
<text transform="translate(19.2,12.7) scale(0.963,1)" font-size="9.6" fill="#000" stroke="#000" stroke-width="0.18" textLength="44.3" lengthAdjust="spacingAndGlyphs">USOil-,H4</text>
<text transform="translate(68.2,12.7) scale(0.963,1)" font-size="9.6" fill="#000" stroke="#000" stroke-width="0.18" textLength="125.4" lengthAdjust="spacingAndGlyphs">63.690 63.770 63.640 63.720</text>
<text transform="translate(8.3,525.8) scale(0.963,1)" font-size="9.6" fill="#000" stroke="#000" stroke-width="0.18" textLength="132.4" lengthAdjust="spacingAndGlyphs">MACD(12,26,9) 0.4812 0.3252</text>
<text transform="translate(8.3,679.8) scale(0.963,1)" font-size="9.6" fill="#000" stroke="#000" stroke-width="0.18" textLength="70.0" lengthAdjust="spacingAndGlyphs">RSI(14) 64.2082</text>
<text transform="translate(1332.7,396) scale(0.995,1.055)" font-size="36" fill="#ed1c24">多空转折点<tspan dx="4">62</tspan></text>
</svg></body></html>
